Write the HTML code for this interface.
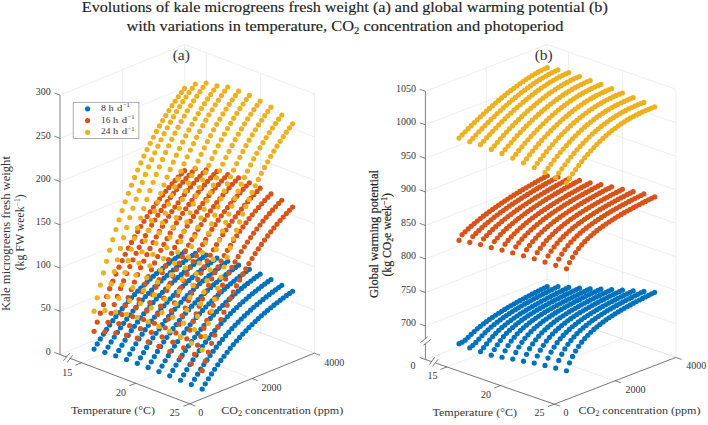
<!DOCTYPE html>
<html><head><meta charset="utf-8"><style>html,body{margin:0;padding:0;background:#fff;}svg{display:block;}</style></head>
<body><svg width="708" height="425" viewBox="0 0 708 425" font-family='"Liberation Serif", serif' fill="#363636">
<rect width="708" height="425" fill="#fff"/>
<text x="344.80" y="12.20" font-size="14.5" text-anchor="middle" fill="#1e1e1e" stroke="#1e1e1e" stroke-width="0.15" textLength="526" lengthAdjust="spacingAndGlyphs">Evolutions of kale microgreens fresh weight (a) and global warming potential (b)</text>
<text x="344.90" y="30.80" font-size="14.5" text-anchor="middle" fill="#1e1e1e" stroke="#1e1e1e" stroke-width="0.15" textLength="437" lengthAdjust="spacingAndGlyphs">with variations in temperature, CO<tspan font-size="9.5" dy="3">2</tspan><tspan dy="-3"> concentration and photoperiod</tspan></text>
<line x1="60.00" y1="354.50" x2="184.70" y2="303.90" stroke="#e2e2e2" stroke-width="0.6"/>
<line x1="60.00" y1="311.27" x2="184.70" y2="260.67" stroke="#e2e2e2" stroke-width="0.6"/>
<line x1="60.00" y1="268.03" x2="184.70" y2="217.43" stroke="#e2e2e2" stroke-width="0.6"/>
<line x1="60.00" y1="224.80" x2="184.70" y2="174.20" stroke="#e2e2e2" stroke-width="0.6"/>
<line x1="60.00" y1="181.57" x2="184.70" y2="130.97" stroke="#e2e2e2" stroke-width="0.6"/>
<line x1="60.00" y1="138.33" x2="184.70" y2="87.73" stroke="#e2e2e2" stroke-width="0.6"/>
<line x1="60.00" y1="95.10" x2="184.70" y2="44.50" stroke="#e2e2e2" stroke-width="0.6"/>
<line x1="122.35" y1="329.20" x2="122.35" y2="69.80" stroke="#e2e2e2" stroke-width="0.6"/>
<line x1="184.70" y1="303.90" x2="184.70" y2="44.50" stroke="#e2e2e2" stroke-width="0.6"/>
<line x1="184.70" y1="303.90" x2="314.40" y2="353.20" stroke="#e2e2e2" stroke-width="0.6"/>
<line x1="184.70" y1="260.67" x2="314.40" y2="309.97" stroke="#e2e2e2" stroke-width="0.6"/>
<line x1="184.70" y1="217.43" x2="314.40" y2="266.73" stroke="#e2e2e2" stroke-width="0.6"/>
<line x1="184.70" y1="174.20" x2="314.40" y2="223.50" stroke="#e2e2e2" stroke-width="0.6"/>
<line x1="184.70" y1="130.97" x2="314.40" y2="180.27" stroke="#e2e2e2" stroke-width="0.6"/>
<line x1="184.70" y1="87.73" x2="314.40" y2="137.03" stroke="#e2e2e2" stroke-width="0.6"/>
<line x1="184.70" y1="44.50" x2="314.40" y2="93.80" stroke="#e2e2e2" stroke-width="0.6"/>
<line x1="206.32" y1="312.12" x2="206.32" y2="52.72" stroke="#e2e2e2" stroke-width="0.6"/>
<line x1="260.36" y1="332.66" x2="260.36" y2="73.26" stroke="#e2e2e2" stroke-width="0.6"/>
<line x1="314.40" y1="353.20" x2="314.40" y2="93.80" stroke="#e2e2e2" stroke-width="0.6"/>
<line x1="81.62" y1="362.72" x2="206.32" y2="312.12" stroke="#e2e2e2" stroke-width="0.6"/>
<line x1="135.66" y1="383.26" x2="260.36" y2="332.66" stroke="#e2e2e2" stroke-width="0.6"/>
<line x1="189.70" y1="403.80" x2="314.40" y2="353.20" stroke="#e2e2e2" stroke-width="0.6"/>
<line x1="60.00" y1="354.50" x2="189.70" y2="403.80" stroke="#e2e2e2" stroke-width="0.6"/>
<line x1="122.35" y1="329.20" x2="252.05" y2="378.50" stroke="#e2e2e2" stroke-width="0.6"/>
<line x1="184.70" y1="303.90" x2="314.40" y2="353.20" stroke="#e2e2e2" stroke-width="0.6"/>
<circle cx="184.49" cy="251.80" r="2.6" fill="#0072BD"/>
<circle cx="181.38" cy="253.99" r="2.6" fill="#0072BD"/>
<circle cx="178.26" cy="256.23" r="2.6" fill="#0072BD"/>
<circle cx="175.14" cy="258.52" r="2.6" fill="#0072BD"/>
<circle cx="172.02" cy="260.86" r="2.6" fill="#0072BD"/>
<circle cx="195.30" cy="253.31" r="2.6" fill="#0072BD"/>
<circle cx="168.91" cy="263.26" r="2.6" fill="#0072BD"/>
<circle cx="192.19" cy="255.53" r="2.6" fill="#0072BD"/>
<circle cx="165.79" cy="265.72" r="2.6" fill="#0072BD"/>
<circle cx="189.07" cy="257.79" r="2.6" fill="#0072BD"/>
<circle cx="162.67" cy="268.25" r="2.6" fill="#0072BD"/>
<circle cx="185.95" cy="260.11" r="2.6" fill="#0072BD"/>
<circle cx="159.55" cy="270.84" r="2.6" fill="#0072BD"/>
<circle cx="182.83" cy="262.49" r="2.6" fill="#0072BD"/>
<circle cx="206.11" cy="255.09" r="2.6" fill="#0072BD"/>
<circle cx="156.44" cy="273.50" r="2.6" fill="#0072BD"/>
<circle cx="179.71" cy="264.92" r="2.6" fill="#0072BD"/>
<circle cx="202.99" cy="257.33" r="2.6" fill="#0072BD"/>
<circle cx="153.32" cy="276.24" r="2.6" fill="#0072BD"/>
<circle cx="176.60" cy="267.42" r="2.6" fill="#0072BD"/>
<circle cx="199.88" cy="259.62" r="2.6" fill="#0072BD"/>
<circle cx="150.20" cy="279.06" r="2.6" fill="#0072BD"/>
<circle cx="173.48" cy="269.98" r="2.6" fill="#0072BD"/>
<circle cx="196.76" cy="261.97" r="2.6" fill="#0072BD"/>
<circle cx="147.08" cy="281.95" r="2.6" fill="#0072BD"/>
<circle cx="170.36" cy="272.61" r="2.6" fill="#0072BD"/>
<circle cx="143.97" cy="284.94" r="2.6" fill="#0072BD"/>
<circle cx="193.64" cy="264.38" r="2.6" fill="#0072BD"/>
<circle cx="216.92" cy="258.07" r="2.6" fill="#0072BD"/>
<circle cx="167.25" cy="275.31" r="2.6" fill="#0072BD"/>
<circle cx="140.85" cy="288.01" r="2.6" fill="#0072BD"/>
<circle cx="190.52" cy="266.84" r="2.6" fill="#0072BD"/>
<circle cx="213.80" cy="260.32" r="2.6" fill="#0072BD"/>
<circle cx="184.49" cy="170.69" r="2.6" fill="#D95319"/>
<circle cx="164.13" cy="278.09" r="2.6" fill="#0072BD"/>
<circle cx="137.73" cy="291.18" r="2.6" fill="#0072BD"/>
<circle cx="187.41" cy="269.37" r="2.6" fill="#0072BD"/>
<circle cx="210.68" cy="262.63" r="2.6" fill="#0072BD"/>
<circle cx="181.38" cy="173.85" r="2.6" fill="#D95319"/>
<circle cx="161.01" cy="280.95" r="2.6" fill="#0072BD"/>
<circle cx="134.61" cy="294.46" r="2.6" fill="#0072BD"/>
<circle cx="184.29" cy="271.97" r="2.6" fill="#0072BD"/>
<circle cx="178.26" cy="177.10" r="2.6" fill="#D95319"/>
<circle cx="207.57" cy="264.99" r="2.6" fill="#0072BD"/>
<circle cx="157.89" cy="283.90" r="2.6" fill="#0072BD"/>
<circle cx="131.50" cy="297.84" r="2.6" fill="#0072BD"/>
<circle cx="175.14" cy="180.47" r="2.6" fill="#D95319"/>
<circle cx="181.17" cy="274.64" r="2.6" fill="#0072BD"/>
<circle cx="204.45" cy="267.41" r="2.6" fill="#0072BD"/>
<circle cx="227.73" cy="261.23" r="2.6" fill="#0072BD"/>
<circle cx="128.38" cy="301.33" r="2.6" fill="#0072BD"/>
<circle cx="154.78" cy="286.93" r="2.6" fill="#0072BD"/>
<circle cx="172.02" cy="183.94" r="2.6" fill="#D95319"/>
<circle cx="178.05" cy="277.38" r="2.6" fill="#0072BD"/>
<circle cx="125.26" cy="304.94" r="2.6" fill="#0072BD"/>
<circle cx="201.33" cy="269.89" r="2.6" fill="#0072BD"/>
<circle cx="224.61" cy="263.49" r="2.6" fill="#0072BD"/>
<circle cx="151.66" cy="290.06" r="2.6" fill="#0072BD"/>
<circle cx="168.91" cy="187.53" r="2.6" fill="#D95319"/>
<circle cx="174.94" cy="280.20" r="2.6" fill="#0072BD"/>
<circle cx="122.14" cy="308.67" r="2.6" fill="#0072BD"/>
<circle cx="148.54" cy="293.28" r="2.6" fill="#0072BD"/>
<circle cx="198.21" cy="272.43" r="2.6" fill="#0072BD"/>
<circle cx="221.49" cy="265.81" r="2.6" fill="#0072BD"/>
<circle cx="195.30" cy="168.75" r="2.6" fill="#D95319"/>
<circle cx="165.79" cy="191.24" r="2.6" fill="#D95319"/>
<circle cx="119.03" cy="312.54" r="2.6" fill="#0072BD"/>
<circle cx="171.82" cy="283.11" r="2.6" fill="#0072BD"/>
<circle cx="145.42" cy="296.61" r="2.6" fill="#0072BD"/>
<circle cx="162.67" cy="195.09" r="2.6" fill="#D95319"/>
<circle cx="195.10" cy="275.04" r="2.6" fill="#0072BD"/>
<circle cx="192.19" cy="171.94" r="2.6" fill="#D95319"/>
<circle cx="218.38" cy="268.18" r="2.6" fill="#0072BD"/>
<circle cx="115.91" cy="316.54" r="2.6" fill="#0072BD"/>
<circle cx="168.70" cy="286.10" r="2.6" fill="#0072BD"/>
<circle cx="142.31" cy="300.05" r="2.6" fill="#0072BD"/>
<circle cx="159.55" cy="199.07" r="2.6" fill="#D95319"/>
<circle cx="189.07" cy="175.23" r="2.6" fill="#D95319"/>
<circle cx="191.98" cy="277.72" r="2.6" fill="#0072BD"/>
<circle cx="112.79" cy="320.69" r="2.6" fill="#0072BD"/>
<circle cx="238.54" cy="265.16" r="2.6" fill="#0072BD"/>
<circle cx="215.26" cy="270.61" r="2.6" fill="#0072BD"/>
<circle cx="156.44" cy="203.19" r="2.6" fill="#D95319"/>
<circle cx="139.19" cy="303.61" r="2.6" fill="#0072BD"/>
<circle cx="165.58" cy="289.18" r="2.6" fill="#0072BD"/>
<circle cx="109.67" cy="324.99" r="2.6" fill="#0072BD"/>
<circle cx="185.95" cy="178.63" r="2.6" fill="#D95319"/>
<circle cx="188.86" cy="280.48" r="2.6" fill="#0072BD"/>
<circle cx="235.42" cy="267.43" r="2.6" fill="#0072BD"/>
<circle cx="212.14" cy="273.10" r="2.6" fill="#0072BD"/>
<circle cx="153.32" cy="207.47" r="2.6" fill="#D95319"/>
<circle cx="136.07" cy="307.28" r="2.6" fill="#0072BD"/>
<circle cx="106.56" cy="329.45" r="2.6" fill="#0072BD"/>
<circle cx="162.47" cy="292.36" r="2.6" fill="#0072BD"/>
<circle cx="182.83" cy="182.15" r="2.6" fill="#D95319"/>
<circle cx="150.20" cy="211.90" r="2.6" fill="#D95319"/>
<circle cx="185.74" cy="283.32" r="2.6" fill="#0072BD"/>
<circle cx="103.44" cy="334.09" r="2.6" fill="#0072BD"/>
<circle cx="132.95" cy="311.09" r="2.6" fill="#0072BD"/>
<circle cx="232.30" cy="269.74" r="2.6" fill="#0072BD"/>
<circle cx="209.02" cy="275.66" r="2.6" fill="#0072BD"/>
<circle cx="159.35" cy="295.64" r="2.6" fill="#0072BD"/>
<circle cx="179.71" cy="185.78" r="2.6" fill="#D95319"/>
<circle cx="147.08" cy="216.51" r="2.6" fill="#D95319"/>
<circle cx="100.32" cy="338.90" r="2.6" fill="#0072BD"/>
<circle cx="206.11" cy="169.83" r="2.6" fill="#D95319"/>
<circle cx="129.83" cy="315.03" r="2.6" fill="#0072BD"/>
<circle cx="182.63" cy="286.24" r="2.6" fill="#0072BD"/>
<circle cx="143.97" cy="221.29" r="2.6" fill="#D95319"/>
<circle cx="156.23" cy="299.02" r="2.6" fill="#0072BD"/>
<circle cx="205.91" cy="278.29" r="2.6" fill="#0072BD"/>
<circle cx="229.18" cy="272.12" r="2.6" fill="#0072BD"/>
<circle cx="97.20" cy="343.90" r="2.6" fill="#0072BD"/>
<circle cx="176.60" cy="189.54" r="2.6" fill="#D95319"/>
<circle cx="126.72" cy="319.11" r="2.6" fill="#0072BD"/>
<circle cx="202.99" cy="173.02" r="2.6" fill="#D95319"/>
<circle cx="140.85" cy="226.26" r="2.6" fill="#D95319"/>
<circle cx="94.09" cy="349.10" r="2.6" fill="#0072BD"/>
<circle cx="179.51" cy="289.25" r="2.6" fill="#0072BD"/>
<circle cx="153.11" cy="302.52" r="2.6" fill="#0072BD"/>
<circle cx="249.34" cy="269.36" r="2.6" fill="#0072BD"/>
<circle cx="173.48" cy="193.43" r="2.6" fill="#D95319"/>
<circle cx="202.79" cy="280.98" r="2.6" fill="#0072BD"/>
<circle cx="226.07" cy="274.55" r="2.6" fill="#0072BD"/>
<circle cx="137.73" cy="231.42" r="2.6" fill="#D95319"/>
<circle cx="123.60" cy="323.34" r="2.6" fill="#0072BD"/>
<circle cx="199.88" cy="176.32" r="2.6" fill="#D95319"/>
<circle cx="176.39" cy="292.35" r="2.6" fill="#0072BD"/>
<circle cx="134.61" cy="236.79" r="2.6" fill="#D95319"/>
<circle cx="170.36" cy="197.47" r="2.6" fill="#D95319"/>
<circle cx="150.00" cy="306.14" r="2.6" fill="#0072BD"/>
<circle cx="120.48" cy="327.73" r="2.6" fill="#0072BD"/>
<circle cx="246.23" cy="271.62" r="2.6" fill="#0072BD"/>
<circle cx="199.67" cy="283.76" r="2.6" fill="#0072BD"/>
<circle cx="131.50" cy="242.38" r="2.6" fill="#D95319"/>
<circle cx="222.95" cy="277.04" r="2.6" fill="#0072BD"/>
<circle cx="196.76" cy="179.72" r="2.6" fill="#D95319"/>
<circle cx="167.25" cy="201.64" r="2.6" fill="#D95319"/>
<circle cx="173.27" cy="295.55" r="2.6" fill="#0072BD"/>
<circle cx="146.88" cy="309.89" r="2.6" fill="#0072BD"/>
<circle cx="128.38" cy="248.20" r="2.6" fill="#D95319"/>
<circle cx="117.36" cy="332.28" r="2.6" fill="#0072BD"/>
<circle cx="125.26" cy="254.27" r="2.6" fill="#D95319"/>
<circle cx="196.55" cy="286.61" r="2.6" fill="#0072BD"/>
<circle cx="243.11" cy="273.94" r="2.6" fill="#0072BD"/>
<circle cx="164.13" cy="205.98" r="2.6" fill="#D95319"/>
<circle cx="193.64" cy="183.24" r="2.6" fill="#D95319"/>
<circle cx="219.83" cy="279.60" r="2.6" fill="#0072BD"/>
<circle cx="114.25" cy="337.01" r="2.6" fill="#0072BD"/>
<circle cx="122.14" cy="260.58" r="2.6" fill="#D95319"/>
<circle cx="143.76" cy="313.76" r="2.6" fill="#0072BD"/>
<circle cx="170.16" cy="298.85" r="2.6" fill="#0072BD"/>
<circle cx="119.03" cy="267.17" r="2.6" fill="#D95319"/>
<circle cx="111.13" cy="341.92" r="2.6" fill="#0072BD"/>
<circle cx="161.01" cy="210.47" r="2.6" fill="#D95319"/>
<circle cx="115.91" cy="274.03" r="2.6" fill="#D95319"/>
<circle cx="94.09" cy="331.37" r="2.6" fill="#D95319"/>
<circle cx="193.44" cy="289.55" r="2.6" fill="#0072BD"/>
<circle cx="190.52" cy="186.88" r="2.6" fill="#D95319"/>
<circle cx="112.79" cy="281.20" r="2.6" fill="#D95319"/>
<circle cx="97.20" cy="322.06" r="2.6" fill="#D95319"/>
<circle cx="140.64" cy="317.78" r="2.6" fill="#0072BD"/>
<circle cx="239.99" cy="276.31" r="2.6" fill="#0072BD"/>
<circle cx="109.67" cy="288.67" r="2.6" fill="#D95319"/>
<circle cx="100.32" cy="313.16" r="2.6" fill="#D95319"/>
<circle cx="216.71" cy="282.23" r="2.6" fill="#0072BD"/>
<circle cx="216.92" cy="171.43" r="2.6" fill="#D95319"/>
<circle cx="106.56" cy="296.48" r="2.6" fill="#D95319"/>
<circle cx="103.44" cy="304.64" r="2.6" fill="#D95319"/>
<circle cx="167.04" cy="302.27" r="2.6" fill="#0072BD"/>
<circle cx="108.01" cy="347.03" r="2.6" fill="#0072BD"/>
<circle cx="157.89" cy="215.14" r="2.6" fill="#D95319"/>
<circle cx="184.49" cy="88.38" r="2.6" fill="#EDB120"/>
<circle cx="187.41" cy="190.64" r="2.6" fill="#D95319"/>
<circle cx="137.53" cy="321.94" r="2.6" fill="#0072BD"/>
<circle cx="104.89" cy="352.34" r="2.6" fill="#0072BD"/>
<circle cx="190.32" cy="292.58" r="2.6" fill="#0072BD"/>
<circle cx="260.15" cy="274.07" r="2.6" fill="#0072BD"/>
<circle cx="154.78" cy="219.99" r="2.6" fill="#D95319"/>
<circle cx="213.80" cy="174.63" r="2.6" fill="#D95319"/>
<circle cx="163.92" cy="305.79" r="2.6" fill="#0072BD"/>
<circle cx="213.60" cy="284.93" r="2.6" fill="#0072BD"/>
<circle cx="236.87" cy="278.75" r="2.6" fill="#0072BD"/>
<circle cx="181.38" cy="92.48" r="2.6" fill="#EDB120"/>
<circle cx="134.41" cy="326.25" r="2.6" fill="#0072BD"/>
<circle cx="184.29" cy="194.54" r="2.6" fill="#D95319"/>
<circle cx="151.66" cy="225.03" r="2.6" fill="#D95319"/>
<circle cx="187.20" cy="295.70" r="2.6" fill="#0072BD"/>
<circle cx="160.80" cy="309.43" r="2.6" fill="#0072BD"/>
<circle cx="210.68" cy="177.94" r="2.6" fill="#D95319"/>
<circle cx="257.03" cy="276.33" r="2.6" fill="#0072BD"/>
<circle cx="210.48" cy="287.71" r="2.6" fill="#0072BD"/>
<circle cx="148.54" cy="230.26" r="2.6" fill="#D95319"/>
<circle cx="131.29" cy="330.72" r="2.6" fill="#0072BD"/>
<circle cx="178.26" cy="96.73" r="2.6" fill="#EDB120"/>
<circle cx="233.76" cy="281.24" r="2.6" fill="#0072BD"/>
<circle cx="181.17" cy="198.57" r="2.6" fill="#D95319"/>
<circle cx="145.42" cy="235.71" r="2.6" fill="#D95319"/>
<circle cx="184.08" cy="298.92" r="2.6" fill="#0072BD"/>
<circle cx="157.69" cy="313.20" r="2.6" fill="#0072BD"/>
<circle cx="128.17" cy="335.37" r="2.6" fill="#0072BD"/>
<circle cx="207.57" cy="181.35" r="2.6" fill="#D95319"/>
<circle cx="175.14" cy="101.14" r="2.6" fill="#EDB120"/>
<circle cx="253.92" cy="278.64" r="2.6" fill="#0072BD"/>
<circle cx="178.05" cy="202.75" r="2.6" fill="#D95319"/>
<circle cx="142.31" cy="241.39" r="2.6" fill="#D95319"/>
<circle cx="207.36" cy="290.57" r="2.6" fill="#0072BD"/>
<circle cx="230.64" cy="283.80" r="2.6" fill="#0072BD"/>
<circle cx="125.06" cy="340.19" r="2.6" fill="#0072BD"/>
<circle cx="94.09" cy="311.14" r="2.6" fill="#EDB120"/>
<circle cx="154.57" cy="317.11" r="2.6" fill="#0072BD"/>
<circle cx="139.19" cy="247.29" r="2.6" fill="#D95319"/>
<circle cx="172.02" cy="105.72" r="2.6" fill="#EDB120"/>
<circle cx="180.97" cy="302.25" r="2.6" fill="#0072BD"/>
<circle cx="204.45" cy="184.88" r="2.6" fill="#D95319"/>
<circle cx="174.94" cy="207.09" r="2.6" fill="#D95319"/>
<circle cx="136.07" cy="253.44" r="2.6" fill="#D95319"/>
<circle cx="121.94" cy="345.21" r="2.6" fill="#0072BD"/>
<circle cx="204.24" cy="293.51" r="2.6" fill="#0072BD"/>
<circle cx="250.80" cy="281.01" r="2.6" fill="#0072BD"/>
<circle cx="168.91" cy="110.48" r="2.6" fill="#EDB120"/>
<circle cx="132.95" cy="259.85" r="2.6" fill="#D95319"/>
<circle cx="227.52" cy="286.43" r="2.6" fill="#0072BD"/>
<circle cx="151.45" cy="321.15" r="2.6" fill="#0072BD"/>
<circle cx="97.20" cy="297.80" r="2.6" fill="#EDB120"/>
<circle cx="171.82" cy="211.59" r="2.6" fill="#D95319"/>
<circle cx="227.73" cy="174.59" r="2.6" fill="#D95319"/>
<circle cx="177.85" cy="305.68" r="2.6" fill="#0072BD"/>
<circle cx="129.83" cy="266.54" r="2.6" fill="#D95319"/>
<circle cx="201.33" cy="188.53" r="2.6" fill="#D95319"/>
<circle cx="118.82" cy="350.42" r="2.6" fill="#0072BD"/>
<circle cx="104.89" cy="331.76" r="2.6" fill="#D95319"/>
<circle cx="126.72" cy="273.51" r="2.6" fill="#D95319"/>
<circle cx="270.96" cy="279.48" r="2.6" fill="#0072BD"/>
<circle cx="165.79" cy="115.41" r="2.6" fill="#EDB120"/>
<circle cx="108.01" cy="322.30" r="2.6" fill="#D95319"/>
<circle cx="123.60" cy="280.79" r="2.6" fill="#D95319"/>
<circle cx="111.13" cy="313.25" r="2.6" fill="#D95319"/>
<circle cx="148.33" cy="325.34" r="2.6" fill="#0072BD"/>
<circle cx="120.48" cy="288.38" r="2.6" fill="#D95319"/>
<circle cx="201.13" cy="296.54" r="2.6" fill="#0072BD"/>
<circle cx="114.25" cy="304.59" r="2.6" fill="#D95319"/>
<circle cx="115.70" cy="355.84" r="2.6" fill="#0072BD"/>
<circle cx="117.36" cy="296.31" r="2.6" fill="#D95319"/>
<circle cx="168.70" cy="216.26" r="2.6" fill="#D95319"/>
<circle cx="247.68" cy="283.43" r="2.6" fill="#0072BD"/>
<circle cx="224.40" cy="289.13" r="2.6" fill="#0072BD"/>
<circle cx="100.32" cy="285.07" r="2.6" fill="#EDB120"/>
<circle cx="162.67" cy="120.55" r="2.6" fill="#EDB120"/>
<circle cx="198.21" cy="192.31" r="2.6" fill="#D95319"/>
<circle cx="174.73" cy="309.23" r="2.6" fill="#0072BD"/>
<circle cx="224.61" cy="177.79" r="2.6" fill="#D95319"/>
<circle cx="165.58" cy="221.12" r="2.6" fill="#D95319"/>
<circle cx="145.22" cy="329.69" r="2.6" fill="#0072BD"/>
<circle cx="159.55" cy="125.89" r="2.6" fill="#EDB120"/>
<circle cx="267.84" cy="281.72" r="2.6" fill="#0072BD"/>
<circle cx="198.01" cy="299.66" r="2.6" fill="#0072BD"/>
<circle cx="103.44" cy="272.92" r="2.6" fill="#EDB120"/>
<circle cx="195.10" cy="196.21" r="2.6" fill="#D95319"/>
<circle cx="171.61" cy="312.90" r="2.6" fill="#0072BD"/>
<circle cx="244.56" cy="285.92" r="2.6" fill="#0072BD"/>
<circle cx="221.29" cy="291.90" r="2.6" fill="#0072BD"/>
<circle cx="221.49" cy="181.09" r="2.6" fill="#D95319"/>
<circle cx="162.47" cy="226.16" r="2.6" fill="#D95319"/>
<circle cx="156.44" cy="131.45" r="2.6" fill="#EDB120"/>
<circle cx="195.30" cy="84.10" r="2.6" fill="#EDB120"/>
<circle cx="142.10" cy="334.20" r="2.6" fill="#0072BD"/>
<circle cx="106.56" cy="261.31" r="2.6" fill="#EDB120"/>
<circle cx="153.32" cy="137.23" r="2.6" fill="#EDB120"/>
<circle cx="159.35" cy="231.40" r="2.6" fill="#D95319"/>
<circle cx="194.89" cy="302.88" r="2.6" fill="#0072BD"/>
<circle cx="191.98" cy="200.26" r="2.6" fill="#D95319"/>
<circle cx="264.73" cy="284.01" r="2.6" fill="#0072BD"/>
<circle cx="168.50" cy="316.69" r="2.6" fill="#0072BD"/>
<circle cx="138.98" cy="338.88" r="2.6" fill="#0072BD"/>
<circle cx="192.19" cy="88.25" r="2.6" fill="#EDB120"/>
<circle cx="109.67" cy="250.23" r="2.6" fill="#EDB120"/>
<circle cx="218.38" cy="184.50" r="2.6" fill="#D95319"/>
<circle cx="150.20" cy="143.25" r="2.6" fill="#EDB120"/>
<circle cx="218.17" cy="294.76" r="2.6" fill="#0072BD"/>
<circle cx="241.45" cy="288.47" r="2.6" fill="#0072BD"/>
<circle cx="156.23" cy="236.86" r="2.6" fill="#D95319"/>
<circle cx="147.08" cy="149.53" r="2.6" fill="#EDB120"/>
<circle cx="112.79" cy="239.64" r="2.6" fill="#EDB120"/>
<circle cx="188.86" cy="204.46" r="2.6" fill="#D95319"/>
<circle cx="135.86" cy="343.74" r="2.6" fill="#0072BD"/>
<circle cx="165.38" cy="320.62" r="2.6" fill="#0072BD"/>
<circle cx="191.77" cy="306.21" r="2.6" fill="#0072BD"/>
<circle cx="153.11" cy="242.54" r="2.6" fill="#D95319"/>
<circle cx="189.07" cy="92.56" r="2.6" fill="#EDB120"/>
<circle cx="143.97" cy="156.07" r="2.6" fill="#EDB120"/>
<circle cx="115.91" cy="229.52" r="2.6" fill="#EDB120"/>
<circle cx="215.26" cy="188.03" r="2.6" fill="#D95319"/>
<circle cx="261.61" cy="286.36" r="2.6" fill="#0072BD"/>
<circle cx="140.85" cy="162.90" r="2.6" fill="#EDB120"/>
<circle cx="119.03" cy="219.85" r="2.6" fill="#EDB120"/>
<circle cx="215.05" cy="297.70" r="2.6" fill="#0072BD"/>
<circle cx="150.00" cy="248.45" r="2.6" fill="#D95319"/>
<circle cx="132.75" cy="348.80" r="2.6" fill="#0072BD"/>
<circle cx="238.33" cy="291.09" r="2.6" fill="#0072BD"/>
<circle cx="137.73" cy="170.01" r="2.6" fill="#EDB120"/>
<circle cx="185.74" cy="208.81" r="2.6" fill="#D95319"/>
<circle cx="122.14" cy="210.61" r="2.6" fill="#EDB120"/>
<circle cx="134.61" cy="177.44" r="2.6" fill="#EDB120"/>
<circle cx="125.26" cy="201.76" r="2.6" fill="#EDB120"/>
<circle cx="185.95" cy="97.03" r="2.6" fill="#EDB120"/>
<circle cx="104.89" cy="310.40" r="2.6" fill="#EDB120"/>
<circle cx="162.26" cy="324.70" r="2.6" fill="#0072BD"/>
<circle cx="131.50" cy="185.20" r="2.6" fill="#EDB120"/>
<circle cx="128.38" cy="193.30" r="2.6" fill="#EDB120"/>
<circle cx="281.77" cy="285.31" r="2.6" fill="#0072BD"/>
<circle cx="146.88" cy="254.61" r="2.6" fill="#D95319"/>
<circle cx="188.66" cy="309.65" r="2.6" fill="#0072BD"/>
<circle cx="238.54" cy="177.83" r="2.6" fill="#D95319"/>
<circle cx="129.63" cy="354.05" r="2.6" fill="#0072BD"/>
<circle cx="212.14" cy="191.67" r="2.6" fill="#D95319"/>
<circle cx="143.76" cy="261.03" r="2.6" fill="#D95319"/>
<circle cx="182.63" cy="213.33" r="2.6" fill="#D95319"/>
<circle cx="258.49" cy="288.77" r="2.6" fill="#0072BD"/>
<circle cx="211.93" cy="300.73" r="2.6" fill="#0072BD"/>
<circle cx="182.83" cy="101.68" r="2.6" fill="#EDB120"/>
<circle cx="140.64" cy="267.72" r="2.6" fill="#D95319"/>
<circle cx="159.14" cy="328.92" r="2.6" fill="#0072BD"/>
<circle cx="115.70" cy="333.02" r="2.6" fill="#D95319"/>
<circle cx="126.51" cy="359.52" r="2.6" fill="#0072BD"/>
<circle cx="235.21" cy="293.78" r="2.6" fill="#0072BD"/>
<circle cx="137.53" cy="274.70" r="2.6" fill="#D95319"/>
<circle cx="118.82" cy="323.54" r="2.6" fill="#D95319"/>
<circle cx="108.01" cy="296.83" r="2.6" fill="#EDB120"/>
<circle cx="185.54" cy="313.20" r="2.6" fill="#0072BD"/>
<circle cx="134.41" cy="281.98" r="2.6" fill="#D95319"/>
<circle cx="121.94" cy="314.48" r="2.6" fill="#D95319"/>
<circle cx="209.02" cy="195.44" r="2.6" fill="#D95319"/>
<circle cx="179.51" cy="218.01" r="2.6" fill="#D95319"/>
<circle cx="235.42" cy="181.04" r="2.6" fill="#D95319"/>
<circle cx="278.65" cy="287.53" r="2.6" fill="#0072BD"/>
<circle cx="131.29" cy="289.58" r="2.6" fill="#D95319"/>
<circle cx="125.06" cy="305.82" r="2.6" fill="#D95319"/>
<circle cx="128.17" cy="297.52" r="2.6" fill="#D95319"/>
<circle cx="179.71" cy="106.50" r="2.6" fill="#EDB120"/>
<circle cx="156.03" cy="333.30" r="2.6" fill="#0072BD"/>
<circle cx="208.82" cy="303.86" r="2.6" fill="#0072BD"/>
<circle cx="255.37" cy="291.23" r="2.6" fill="#0072BD"/>
<circle cx="176.39" cy="222.88" r="2.6" fill="#D95319"/>
<circle cx="232.09" cy="296.54" r="2.6" fill="#0072BD"/>
<circle cx="182.42" cy="316.87" r="2.6" fill="#0072BD"/>
<circle cx="111.13" cy="283.89" r="2.6" fill="#EDB120"/>
<circle cx="176.60" cy="111.51" r="2.6" fill="#EDB120"/>
<circle cx="205.91" cy="199.35" r="2.6" fill="#D95319"/>
<circle cx="232.30" cy="184.35" r="2.6" fill="#D95319"/>
<circle cx="152.91" cy="337.84" r="2.6" fill="#0072BD"/>
<circle cx="275.53" cy="289.80" r="2.6" fill="#0072BD"/>
<circle cx="173.27" cy="227.95" r="2.6" fill="#D95319"/>
<circle cx="173.48" cy="116.71" r="2.6" fill="#EDB120"/>
<circle cx="205.70" cy="307.08" r="2.6" fill="#0072BD"/>
<circle cx="114.25" cy="271.53" r="2.6" fill="#EDB120"/>
<circle cx="179.30" cy="320.67" r="2.6" fill="#0072BD"/>
<circle cx="252.26" cy="293.76" r="2.6" fill="#0072BD"/>
<circle cx="202.79" cy="203.39" r="2.6" fill="#D95319"/>
<circle cx="149.79" cy="342.56" r="2.6" fill="#0072BD"/>
<circle cx="228.98" cy="299.39" r="2.6" fill="#0072BD"/>
<circle cx="170.16" cy="233.21" r="2.6" fill="#D95319"/>
<circle cx="229.18" cy="187.77" r="2.6" fill="#D95319"/>
<circle cx="170.36" cy="122.13" r="2.6" fill="#EDB120"/>
<circle cx="206.11" cy="83.10" r="2.6" fill="#EDB120"/>
<circle cx="117.36" cy="259.73" r="2.6" fill="#EDB120"/>
<circle cx="272.42" cy="292.13" r="2.6" fill="#0072BD"/>
<circle cx="146.67" cy="347.46" r="2.6" fill="#0072BD"/>
<circle cx="167.04" cy="238.68" r="2.6" fill="#D95319"/>
<circle cx="202.58" cy="310.40" r="2.6" fill="#0072BD"/>
<circle cx="167.25" cy="127.77" r="2.6" fill="#EDB120"/>
<circle cx="176.19" cy="324.60" r="2.6" fill="#0072BD"/>
<circle cx="199.67" cy="207.59" r="2.6" fill="#D95319"/>
<circle cx="202.99" cy="87.30" r="2.6" fill="#EDB120"/>
<circle cx="249.14" cy="296.36" r="2.6" fill="#0072BD"/>
<circle cx="225.86" cy="302.32" r="2.6" fill="#0072BD"/>
<circle cx="226.07" cy="191.30" r="2.6" fill="#D95319"/>
<circle cx="164.13" cy="133.64" r="2.6" fill="#EDB120"/>
<circle cx="163.92" cy="244.38" r="2.6" fill="#D95319"/>
<circle cx="120.48" cy="248.46" r="2.6" fill="#EDB120"/>
<circle cx="292.58" cy="291.24" r="2.6" fill="#0072BD"/>
<circle cx="143.56" cy="352.56" r="2.6" fill="#0072BD"/>
<circle cx="196.55" cy="211.93" r="2.6" fill="#D95319"/>
<circle cx="173.07" cy="328.68" r="2.6" fill="#0072BD"/>
<circle cx="249.34" cy="182.80" r="2.6" fill="#D95319"/>
<circle cx="161.01" cy="139.75" r="2.6" fill="#EDB120"/>
<circle cx="160.80" cy="250.32" r="2.6" fill="#D95319"/>
<circle cx="199.46" cy="313.84" r="2.6" fill="#0072BD"/>
<circle cx="123.60" cy="237.69" r="2.6" fill="#EDB120"/>
<circle cx="199.88" cy="91.65" r="2.6" fill="#EDB120"/>
<circle cx="269.30" cy="294.51" r="2.6" fill="#0072BD"/>
<circle cx="140.44" cy="357.86" r="2.6" fill="#0072BD"/>
<circle cx="157.89" cy="146.13" r="2.6" fill="#EDB120"/>
<circle cx="222.95" cy="194.95" r="2.6" fill="#D95319"/>
<circle cx="115.70" cy="311.92" r="2.6" fill="#EDB120"/>
<circle cx="157.69" cy="256.50" r="2.6" fill="#D95319"/>
<circle cx="222.74" cy="305.34" r="2.6" fill="#0072BD"/>
<circle cx="126.72" cy="227.40" r="2.6" fill="#EDB120"/>
<circle cx="246.02" cy="299.03" r="2.6" fill="#0072BD"/>
<circle cx="193.44" cy="216.45" r="2.6" fill="#D95319"/>
<circle cx="154.78" cy="152.77" r="2.6" fill="#EDB120"/>
<circle cx="169.95" cy="332.91" r="2.6" fill="#0072BD"/>
<circle cx="154.57" cy="262.94" r="2.6" fill="#D95319"/>
<circle cx="137.32" cy="363.37" r="2.6" fill="#0072BD"/>
<circle cx="289.46" cy="293.44" r="2.6" fill="#0072BD"/>
<circle cx="129.83" cy="217.57" r="2.6" fill="#EDB120"/>
<circle cx="196.76" cy="96.16" r="2.6" fill="#EDB120"/>
<circle cx="151.66" cy="159.70" r="2.6" fill="#EDB120"/>
<circle cx="196.35" cy="317.39" r="2.6" fill="#0072BD"/>
<circle cx="246.23" cy="186.00" r="2.6" fill="#D95319"/>
<circle cx="132.95" cy="208.17" r="2.6" fill="#EDB120"/>
<circle cx="151.45" cy="269.66" r="2.6" fill="#D95319"/>
<circle cx="126.51" cy="335.22" r="2.6" fill="#D95319"/>
<circle cx="148.54" cy="166.93" r="2.6" fill="#EDB120"/>
<circle cx="136.07" cy="199.18" r="2.6" fill="#EDB120"/>
<circle cx="145.42" cy="174.47" r="2.6" fill="#EDB120"/>
<circle cx="139.19" cy="190.58" r="2.6" fill="#EDB120"/>
<circle cx="219.83" cy="198.73" r="2.6" fill="#D95319"/>
<circle cx="142.31" cy="182.35" r="2.6" fill="#EDB120"/>
<circle cx="148.33" cy="276.67" r="2.6" fill="#D95319"/>
<circle cx="190.32" cy="221.13" r="2.6" fill="#D95319"/>
<circle cx="266.18" cy="296.95" r="2.6" fill="#0072BD"/>
<circle cx="129.63" cy="325.71" r="2.6" fill="#D95319"/>
<circle cx="145.22" cy="283.98" r="2.6" fill="#D95319"/>
<circle cx="166.83" cy="337.29" r="2.6" fill="#0072BD"/>
<circle cx="219.62" cy="308.45" r="2.6" fill="#0072BD"/>
<circle cx="118.82" cy="298.19" r="2.6" fill="#EDB120"/>
<circle cx="132.75" cy="316.61" r="2.6" fill="#D95319"/>
<circle cx="193.64" cy="100.85" r="2.6" fill="#EDB120"/>
<circle cx="142.10" cy="291.61" r="2.6" fill="#D95319"/>
<circle cx="242.90" cy="301.77" r="2.6" fill="#0072BD"/>
<circle cx="135.86" cy="307.91" r="2.6" fill="#D95319"/>
<circle cx="138.98" cy="299.58" r="2.6" fill="#D95319"/>
<circle cx="193.23" cy="321.06" r="2.6" fill="#0072BD"/>
<circle cx="243.11" cy="189.31" r="2.6" fill="#D95319"/>
<circle cx="187.20" cy="225.99" r="2.6" fill="#D95319"/>
<circle cx="286.34" cy="295.68" r="2.6" fill="#0072BD"/>
<circle cx="216.71" cy="202.65" r="2.6" fill="#D95319"/>
<circle cx="163.72" cy="341.84" r="2.6" fill="#0072BD"/>
<circle cx="190.52" cy="105.72" r="2.6" fill="#EDB120"/>
<circle cx="263.06" cy="299.45" r="2.6" fill="#0072BD"/>
<circle cx="121.94" cy="285.08" r="2.6" fill="#EDB120"/>
<circle cx="216.51" cy="311.66" r="2.6" fill="#0072BD"/>
<circle cx="184.08" cy="231.05" r="2.6" fill="#D95319"/>
<circle cx="239.79" cy="304.59" r="2.6" fill="#0072BD"/>
<circle cx="190.11" cy="324.86" r="2.6" fill="#0072BD"/>
<circle cx="187.41" cy="110.77" r="2.6" fill="#EDB120"/>
<circle cx="239.99" cy="192.72" r="2.6" fill="#D95319"/>
<circle cx="160.60" cy="346.56" r="2.6" fill="#0072BD"/>
<circle cx="213.60" cy="206.70" r="2.6" fill="#D95319"/>
<circle cx="283.23" cy="297.98" r="2.6" fill="#0072BD"/>
<circle cx="180.97" cy="236.31" r="2.6" fill="#D95319"/>
<circle cx="216.92" cy="85.92" r="2.6" fill="#EDB120"/>
<circle cx="125.06" cy="272.58" r="2.6" fill="#EDB120"/>
<circle cx="184.29" cy="116.04" r="2.6" fill="#EDB120"/>
<circle cx="213.39" cy="314.97" r="2.6" fill="#0072BD"/>
<circle cx="157.48" cy="351.47" r="2.6" fill="#0072BD"/>
<circle cx="186.99" cy="328.80" r="2.6" fill="#0072BD"/>
<circle cx="259.95" cy="302.01" r="2.6" fill="#0072BD"/>
<circle cx="236.67" cy="307.50" r="2.6" fill="#0072BD"/>
<circle cx="177.85" cy="241.78" r="2.6" fill="#D95319"/>
<circle cx="210.48" cy="210.90" r="2.6" fill="#D95319"/>
<circle cx="236.87" cy="196.24" r="2.6" fill="#D95319"/>
<circle cx="181.17" cy="121.51" r="2.6" fill="#EDB120"/>
<circle cx="128.17" cy="260.64" r="2.6" fill="#EDB120"/>
<circle cx="213.80" cy="90.10" r="2.6" fill="#EDB120"/>
<circle cx="154.36" cy="356.57" r="2.6" fill="#0072BD"/>
<circle cx="260.15" cy="188.21" r="2.6" fill="#D95319"/>
<circle cx="174.73" cy="247.47" r="2.6" fill="#D95319"/>
<circle cx="280.11" cy="300.33" r="2.6" fill="#0072BD"/>
<circle cx="183.88" cy="332.88" r="2.6" fill="#0072BD"/>
<circle cx="210.27" cy="318.39" r="2.6" fill="#0072BD"/>
<circle cx="178.05" cy="127.20" r="2.6" fill="#EDB120"/>
<circle cx="207.36" cy="215.26" r="2.6" fill="#D95319"/>
<circle cx="256.83" cy="304.65" r="2.6" fill="#0072BD"/>
<circle cx="171.61" cy="253.40" r="2.6" fill="#D95319"/>
<circle cx="131.29" cy="249.23" r="2.6" fill="#EDB120"/>
<circle cx="233.76" cy="199.88" r="2.6" fill="#D95319"/>
<circle cx="151.25" cy="361.87" r="2.6" fill="#0072BD"/>
<circle cx="233.55" cy="310.49" r="2.6" fill="#0072BD"/>
<circle cx="210.68" cy="94.45" r="2.6" fill="#EDB120"/>
<circle cx="174.94" cy="133.13" r="2.6" fill="#EDB120"/>
<circle cx="168.50" cy="259.57" r="2.6" fill="#D95319"/>
<circle cx="180.76" cy="337.10" r="2.6" fill="#0072BD"/>
<circle cx="257.03" cy="191.41" r="2.6" fill="#D95319"/>
<circle cx="126.51" cy="314.30" r="2.6" fill="#EDB120"/>
<circle cx="134.41" cy="238.34" r="2.6" fill="#EDB120"/>
<circle cx="204.24" cy="219.78" r="2.6" fill="#D95319"/>
<circle cx="148.13" cy="367.39" r="2.6" fill="#0072BD"/>
<circle cx="207.15" cy="321.93" r="2.6" fill="#0072BD"/>
<circle cx="171.82" cy="139.31" r="2.6" fill="#EDB120"/>
<circle cx="165.38" cy="266.01" r="2.6" fill="#D95319"/>
<circle cx="276.99" cy="302.74" r="2.6" fill="#0072BD"/>
<circle cx="230.64" cy="203.65" r="2.6" fill="#D95319"/>
<circle cx="207.57" cy="98.95" r="2.6" fill="#EDB120"/>
<circle cx="137.53" cy="227.94" r="2.6" fill="#EDB120"/>
<circle cx="168.70" cy="145.75" r="2.6" fill="#EDB120"/>
<circle cx="162.26" cy="272.72" r="2.6" fill="#D95319"/>
<circle cx="230.43" cy="313.57" r="2.6" fill="#0072BD"/>
<circle cx="137.32" cy="338.21" r="2.6" fill="#D95319"/>
<circle cx="253.71" cy="307.36" r="2.6" fill="#0072BD"/>
<circle cx="177.64" cy="341.49" r="2.6" fill="#0072BD"/>
<circle cx="201.13" cy="224.48" r="2.6" fill="#D95319"/>
<circle cx="159.14" cy="279.72" r="2.6" fill="#D95319"/>
<circle cx="165.58" cy="152.47" r="2.6" fill="#EDB120"/>
<circle cx="140.64" cy="217.99" r="2.6" fill="#EDB120"/>
<circle cx="140.44" cy="328.70" r="2.6" fill="#D95319"/>
<circle cx="253.92" cy="194.70" r="2.6" fill="#D95319"/>
<circle cx="156.03" cy="287.02" r="2.6" fill="#D95319"/>
<circle cx="143.56" cy="319.62" r="2.6" fill="#D95319"/>
<circle cx="162.47" cy="159.47" r="2.6" fill="#EDB120"/>
<circle cx="204.04" cy="325.59" r="2.6" fill="#0072BD"/>
<circle cx="152.91" cy="294.65" r="2.6" fill="#D95319"/>
<circle cx="143.76" cy="208.49" r="2.6" fill="#EDB120"/>
<circle cx="146.67" cy="310.93" r="2.6" fill="#D95319"/>
<circle cx="204.45" cy="103.63" r="2.6" fill="#EDB120"/>
<circle cx="129.63" cy="300.59" r="2.6" fill="#EDB120"/>
<circle cx="149.79" cy="302.61" r="2.6" fill="#D95319"/>
<circle cx="159.35" cy="166.78" r="2.6" fill="#EDB120"/>
<circle cx="146.88" cy="199.39" r="2.6" fill="#EDB120"/>
<circle cx="227.52" cy="207.56" r="2.6" fill="#D95319"/>
<circle cx="156.23" cy="174.41" r="2.6" fill="#EDB120"/>
<circle cx="150.00" cy="190.70" r="2.6" fill="#EDB120"/>
<circle cx="153.11" cy="182.37" r="2.6" fill="#EDB120"/>
<circle cx="198.01" cy="229.36" r="2.6" fill="#D95319"/>
<circle cx="273.87" cy="305.21" r="2.6" fill="#0072BD"/>
<circle cx="174.52" cy="346.03" r="2.6" fill="#0072BD"/>
<circle cx="227.32" cy="316.75" r="2.6" fill="#0072BD"/>
<circle cx="250.59" cy="310.14" r="2.6" fill="#0072BD"/>
<circle cx="201.33" cy="108.49" r="2.6" fill="#EDB120"/>
<circle cx="250.80" cy="198.11" r="2.6" fill="#D95319"/>
<circle cx="200.92" cy="329.37" r="2.6" fill="#0072BD"/>
<circle cx="194.89" cy="234.43" r="2.6" fill="#D95319"/>
<circle cx="224.40" cy="211.60" r="2.6" fill="#D95319"/>
<circle cx="132.75" cy="287.52" r="2.6" fill="#EDB120"/>
<circle cx="171.41" cy="350.76" r="2.6" fill="#0072BD"/>
<circle cx="198.21" cy="113.54" r="2.6" fill="#EDB120"/>
<circle cx="270.75" cy="307.75" r="2.6" fill="#0072BD"/>
<circle cx="224.20" cy="320.03" r="2.6" fill="#0072BD"/>
<circle cx="191.77" cy="239.70" r="2.6" fill="#D95319"/>
<circle cx="247.48" cy="313.01" r="2.6" fill="#0072BD"/>
<circle cx="197.80" cy="333.29" r="2.6" fill="#0072BD"/>
<circle cx="168.29" cy="355.66" r="2.6" fill="#0072BD"/>
<circle cx="247.68" cy="201.63" r="2.6" fill="#D95319"/>
<circle cx="221.29" cy="215.79" r="2.6" fill="#D95319"/>
<circle cx="135.86" cy="275.04" r="2.6" fill="#EDB120"/>
<circle cx="195.10" cy="118.79" r="2.6" fill="#EDB120"/>
<circle cx="270.96" cy="193.96" r="2.6" fill="#D95319"/>
<circle cx="188.66" cy="245.18" r="2.6" fill="#D95319"/>
<circle cx="227.73" cy="87.00" r="2.6" fill="#EDB120"/>
<circle cx="165.17" cy="360.76" r="2.6" fill="#0072BD"/>
<circle cx="221.08" cy="323.42" r="2.6" fill="#0072BD"/>
<circle cx="191.98" cy="124.26" r="2.6" fill="#EDB120"/>
<circle cx="194.68" cy="337.35" r="2.6" fill="#0072BD"/>
<circle cx="218.17" cy="220.13" r="2.6" fill="#D95319"/>
<circle cx="267.64" cy="310.35" r="2.6" fill="#0072BD"/>
<circle cx="185.54" cy="250.89" r="2.6" fill="#D95319"/>
<circle cx="138.98" cy="263.12" r="2.6" fill="#EDB120"/>
<circle cx="244.56" cy="205.27" r="2.6" fill="#D95319"/>
<circle cx="244.36" cy="315.96" r="2.6" fill="#0072BD"/>
<circle cx="224.61" cy="91.22" r="2.6" fill="#EDB120"/>
<circle cx="162.05" cy="366.07" r="2.6" fill="#0072BD"/>
<circle cx="188.86" cy="129.94" r="2.6" fill="#EDB120"/>
<circle cx="182.42" cy="256.83" r="2.6" fill="#D95319"/>
<circle cx="267.84" cy="197.16" r="2.6" fill="#D95319"/>
<circle cx="142.10" cy="251.74" r="2.6" fill="#EDB120"/>
<circle cx="215.05" cy="224.64" r="2.6" fill="#D95319"/>
<circle cx="191.57" cy="341.55" r="2.6" fill="#0072BD"/>
<circle cx="217.96" cy="326.92" r="2.6" fill="#0072BD"/>
<circle cx="185.74" cy="135.86" r="2.6" fill="#EDB120"/>
<circle cx="179.30" cy="263.02" r="2.6" fill="#D95319"/>
<circle cx="158.94" cy="371.58" r="2.6" fill="#0072BD"/>
<circle cx="241.45" cy="209.03" r="2.6" fill="#D95319"/>
<circle cx="137.32" cy="317.45" r="2.6" fill="#EDB120"/>
<circle cx="264.52" cy="313.02" r="2.6" fill="#0072BD"/>
<circle cx="221.49" cy="95.59" r="2.6" fill="#EDB120"/>
<circle cx="241.24" cy="319.00" r="2.6" fill="#0072BD"/>
<circle cx="145.22" cy="240.87" r="2.6" fill="#EDB120"/>
<circle cx="176.19" cy="269.48" r="2.6" fill="#D95319"/>
<circle cx="182.63" cy="142.03" r="2.6" fill="#EDB120"/>
<circle cx="211.93" cy="229.32" r="2.6" fill="#D95319"/>
<circle cx="264.73" cy="200.46" r="2.6" fill="#D95319"/>
<circle cx="148.13" cy="341.88" r="2.6" fill="#D95319"/>
<circle cx="173.07" cy="276.21" r="2.6" fill="#D95319"/>
<circle cx="188.45" cy="345.92" r="2.6" fill="#0072BD"/>
<circle cx="179.51" cy="148.46" r="2.6" fill="#EDB120"/>
<circle cx="148.33" cy="230.49" r="2.6" fill="#EDB120"/>
<circle cx="214.85" cy="330.53" r="2.6" fill="#0072BD"/>
<circle cx="169.95" cy="283.23" r="2.6" fill="#D95319"/>
<circle cx="151.25" cy="332.35" r="2.6" fill="#D95319"/>
<circle cx="218.38" cy="100.13" r="2.6" fill="#EDB120"/>
<circle cx="238.33" cy="212.93" r="2.6" fill="#D95319"/>
<circle cx="176.39" cy="155.16" r="2.6" fill="#EDB120"/>
<circle cx="166.83" cy="290.55" r="2.6" fill="#D95319"/>
<circle cx="154.36" cy="323.24" r="2.6" fill="#D95319"/>
<circle cx="151.45" cy="220.56" r="2.6" fill="#EDB120"/>
<circle cx="163.72" cy="298.20" r="2.6" fill="#D95319"/>
<circle cx="157.48" cy="314.52" r="2.6" fill="#D95319"/>
<circle cx="160.60" cy="306.18" r="2.6" fill="#D95319"/>
<circle cx="208.82" cy="234.19" r="2.6" fill="#D95319"/>
<circle cx="238.12" cy="322.14" r="2.6" fill="#0072BD"/>
<circle cx="173.27" cy="162.15" r="2.6" fill="#EDB120"/>
<circle cx="140.44" cy="303.62" r="2.6" fill="#EDB120"/>
<circle cx="261.40" cy="315.77" r="2.6" fill="#0072BD"/>
<circle cx="154.57" cy="211.07" r="2.6" fill="#EDB120"/>
<circle cx="185.33" cy="350.44" r="2.6" fill="#0072BD"/>
<circle cx="170.16" cy="169.44" r="2.6" fill="#EDB120"/>
<circle cx="157.69" cy="202.00" r="2.6" fill="#EDB120"/>
<circle cx="261.61" cy="203.86" r="2.6" fill="#D95319"/>
<circle cx="167.04" cy="177.06" r="2.6" fill="#EDB120"/>
<circle cx="160.80" cy="193.32" r="2.6" fill="#EDB120"/>
<circle cx="163.92" cy="185.01" r="2.6" fill="#EDB120"/>
<circle cx="215.26" cy="104.85" r="2.6" fill="#EDB120"/>
<circle cx="211.73" cy="334.28" r="2.6" fill="#0072BD"/>
<circle cx="235.21" cy="216.97" r="2.6" fill="#D95319"/>
<circle cx="205.70" cy="239.24" r="2.6" fill="#D95319"/>
<circle cx="182.21" cy="355.14" r="2.6" fill="#0072BD"/>
<circle cx="235.01" cy="325.37" r="2.6" fill="#0072BD"/>
<circle cx="143.56" cy="290.41" r="2.6" fill="#EDB120"/>
<circle cx="212.14" cy="109.75" r="2.6" fill="#EDB120"/>
<circle cx="258.28" cy="318.60" r="2.6" fill="#0072BD"/>
<circle cx="202.58" cy="244.50" r="2.6" fill="#D95319"/>
<circle cx="258.49" cy="207.38" r="2.6" fill="#D95319"/>
<circle cx="208.61" cy="338.15" r="2.6" fill="#0072BD"/>
<circle cx="232.09" cy="221.15" r="2.6" fill="#D95319"/>
<circle cx="281.77" cy="200.23" r="2.6" fill="#D95319"/>
<circle cx="179.10" cy="360.02" r="2.6" fill="#0072BD"/>
<circle cx="209.02" cy="114.84" r="2.6" fill="#EDB120"/>
<circle cx="199.46" cy="249.96" r="2.6" fill="#D95319"/>
<circle cx="238.54" cy="91.19" r="2.6" fill="#EDB120"/>
<circle cx="146.67" cy="277.81" r="2.6" fill="#EDB120"/>
<circle cx="231.89" cy="328.71" r="2.6" fill="#0072BD"/>
<circle cx="175.98" cy="365.10" r="2.6" fill="#0072BD"/>
<circle cx="228.98" cy="225.49" r="2.6" fill="#D95319"/>
<circle cx="255.37" cy="211.02" r="2.6" fill="#D95319"/>
<circle cx="205.49" cy="342.17" r="2.6" fill="#0072BD"/>
<circle cx="255.17" cy="321.51" r="2.6" fill="#0072BD"/>
<circle cx="196.35" cy="255.65" r="2.6" fill="#D95319"/>
<circle cx="205.91" cy="120.13" r="2.6" fill="#EDB120"/>
<circle cx="278.65" cy="203.43" r="2.6" fill="#D95319"/>
<circle cx="149.79" cy="265.78" r="2.6" fill="#EDB120"/>
<circle cx="172.86" cy="370.38" r="2.6" fill="#0072BD"/>
<circle cx="235.42" cy="95.41" r="2.6" fill="#EDB120"/>
<circle cx="193.23" cy="261.58" r="2.6" fill="#D95319"/>
<circle cx="202.79" cy="125.64" r="2.6" fill="#EDB120"/>
<circle cx="225.86" cy="229.99" r="2.6" fill="#D95319"/>
<circle cx="228.77" cy="332.16" r="2.6" fill="#0072BD"/>
<circle cx="202.38" cy="346.33" r="2.6" fill="#0072BD"/>
<circle cx="252.26" cy="214.79" r="2.6" fill="#D95319"/>
<circle cx="190.11" cy="267.75" r="2.6" fill="#D95319"/>
<circle cx="169.74" cy="375.87" r="2.6" fill="#0072BD"/>
<circle cx="252.05" cy="324.51" r="2.6" fill="#0072BD"/>
<circle cx="199.67" cy="131.38" r="2.6" fill="#EDB120"/>
<circle cx="152.91" cy="254.29" r="2.6" fill="#EDB120"/>
<circle cx="148.13" cy="321.82" r="2.6" fill="#EDB120"/>
<circle cx="275.53" cy="206.73" r="2.6" fill="#D95319"/>
<circle cx="186.99" cy="274.18" r="2.6" fill="#D95319"/>
<circle cx="232.30" cy="99.79" r="2.6" fill="#EDB120"/>
<circle cx="222.74" cy="234.67" r="2.6" fill="#D95319"/>
<circle cx="196.55" cy="137.35" r="2.6" fill="#EDB120"/>
<circle cx="199.26" cy="350.64" r="2.6" fill="#0072BD"/>
<circle cx="183.88" cy="280.89" r="2.6" fill="#D95319"/>
<circle cx="158.94" cy="346.34" r="2.6" fill="#D95319"/>
<circle cx="225.65" cy="335.72" r="2.6" fill="#0072BD"/>
<circle cx="249.14" cy="218.69" r="2.6" fill="#D95319"/>
<circle cx="156.03" cy="243.32" r="2.6" fill="#EDB120"/>
<circle cx="180.76" cy="287.88" r="2.6" fill="#D95319"/>
<circle cx="162.05" cy="336.84" r="2.6" fill="#D95319"/>
<circle cx="193.44" cy="143.57" r="2.6" fill="#EDB120"/>
<circle cx="177.64" cy="295.18" r="2.6" fill="#D95319"/>
<circle cx="229.18" cy="104.34" r="2.6" fill="#EDB120"/>
<circle cx="165.17" cy="327.76" r="2.6" fill="#D95319"/>
<circle cx="219.62" cy="239.52" r="2.6" fill="#D95319"/>
<circle cx="248.93" cy="327.60" r="2.6" fill="#0072BD"/>
<circle cx="174.52" cy="302.80" r="2.6" fill="#D95319"/>
<circle cx="168.29" cy="319.07" r="2.6" fill="#D95319"/>
<circle cx="159.14" cy="232.83" r="2.6" fill="#EDB120"/>
<circle cx="171.41" cy="310.76" r="2.6" fill="#D95319"/>
<circle cx="272.42" cy="210.14" r="2.6" fill="#D95319"/>
<circle cx="190.32" cy="150.05" r="2.6" fill="#EDB120"/>
<circle cx="151.25" cy="307.97" r="2.6" fill="#EDB120"/>
<circle cx="196.14" cy="355.11" r="2.6" fill="#0072BD"/>
<circle cx="162.26" cy="222.81" r="2.6" fill="#EDB120"/>
<circle cx="246.02" cy="222.73" r="2.6" fill="#D95319"/>
<circle cx="222.54" cy="339.41" r="2.6" fill="#0072BD"/>
<circle cx="187.20" cy="156.81" r="2.6" fill="#EDB120"/>
<circle cx="216.51" cy="244.57" r="2.6" fill="#D95319"/>
<circle cx="226.07" cy="109.06" r="2.6" fill="#EDB120"/>
<circle cx="165.38" cy="213.24" r="2.6" fill="#EDB120"/>
<circle cx="184.08" cy="163.87" r="2.6" fill="#EDB120"/>
<circle cx="168.50" cy="204.08" r="2.6" fill="#EDB120"/>
<circle cx="180.97" cy="171.23" r="2.6" fill="#EDB120"/>
<circle cx="193.02" cy="359.76" r="2.6" fill="#0072BD"/>
<circle cx="245.81" cy="330.78" r="2.6" fill="#0072BD"/>
<circle cx="177.85" cy="178.91" r="2.6" fill="#EDB120"/>
<circle cx="171.61" cy="195.32" r="2.6" fill="#EDB120"/>
<circle cx="269.30" cy="213.67" r="2.6" fill="#D95319"/>
<circle cx="174.73" cy="186.93" r="2.6" fill="#EDB120"/>
<circle cx="292.58" cy="207.11" r="2.6" fill="#D95319"/>
<circle cx="213.39" cy="249.81" r="2.6" fill="#D95319"/>
<circle cx="154.36" cy="294.76" r="2.6" fill="#EDB120"/>
<circle cx="242.90" cy="226.92" r="2.6" fill="#D95319"/>
<circle cx="222.95" cy="113.96" r="2.6" fill="#EDB120"/>
<circle cx="219.42" cy="343.22" r="2.6" fill="#0072BD"/>
<circle cx="189.91" cy="364.58" r="2.6" fill="#0072BD"/>
<circle cx="210.27" cy="255.27" r="2.6" fill="#D95319"/>
<circle cx="219.83" cy="119.05" r="2.6" fill="#EDB120"/>
<circle cx="266.18" cy="217.31" r="2.6" fill="#D95319"/>
<circle cx="242.70" cy="334.07" r="2.6" fill="#0072BD"/>
<circle cx="239.79" cy="231.26" r="2.6" fill="#D95319"/>
<circle cx="289.46" cy="210.31" r="2.6" fill="#D95319"/>
<circle cx="157.48" cy="282.14" r="2.6" fill="#EDB120"/>
<circle cx="249.34" cy="95.39" r="2.6" fill="#EDB120"/>
<circle cx="216.30" cy="347.18" r="2.6" fill="#0072BD"/>
<circle cx="207.15" cy="260.95" r="2.6" fill="#D95319"/>
<circle cx="186.79" cy="369.60" r="2.6" fill="#0072BD"/>
<circle cx="216.71" cy="124.35" r="2.6" fill="#EDB120"/>
<circle cx="204.04" cy="266.87" r="2.6" fill="#D95319"/>
<circle cx="236.67" cy="235.76" r="2.6" fill="#D95319"/>
<circle cx="263.06" cy="221.08" r="2.6" fill="#D95319"/>
<circle cx="183.67" cy="374.81" r="2.6" fill="#0072BD"/>
<circle cx="160.60" cy="270.10" r="2.6" fill="#EDB120"/>
<circle cx="246.23" cy="99.62" r="2.6" fill="#EDB120"/>
<circle cx="239.58" cy="337.47" r="2.6" fill="#0072BD"/>
<circle cx="213.60" cy="129.86" r="2.6" fill="#EDB120"/>
<circle cx="213.18" cy="351.27" r="2.6" fill="#0072BD"/>
<circle cx="286.34" cy="213.61" r="2.6" fill="#D95319"/>
<circle cx="200.92" cy="273.03" r="2.6" fill="#D95319"/>
<circle cx="180.55" cy="380.23" r="2.6" fill="#0072BD"/>
<circle cx="197.80" cy="279.45" r="2.6" fill="#D95319"/>
<circle cx="233.55" cy="240.44" r="2.6" fill="#D95319"/>
<circle cx="158.94" cy="326.45" r="2.6" fill="#EDB120"/>
<circle cx="210.48" cy="135.60" r="2.6" fill="#EDB120"/>
<circle cx="163.72" cy="258.61" r="2.6" fill="#EDB120"/>
<circle cx="243.11" cy="104.00" r="2.6" fill="#EDB120"/>
<circle cx="259.95" cy="224.98" r="2.6" fill="#D95319"/>
<circle cx="194.68" cy="286.15" r="2.6" fill="#D95319"/>
<circle cx="169.74" cy="351.48" r="2.6" fill="#D95319"/>
<circle cx="210.07" cy="355.51" r="2.6" fill="#0072BD"/>
<circle cx="236.46" cy="340.98" r="2.6" fill="#0072BD"/>
<circle cx="207.36" cy="141.58" r="2.6" fill="#EDB120"/>
<circle cx="191.57" cy="293.13" r="2.6" fill="#D95319"/>
<circle cx="283.23" cy="217.02" r="2.6" fill="#D95319"/>
<circle cx="172.86" cy="342.00" r="2.6" fill="#D95319"/>
<circle cx="166.83" cy="247.62" r="2.6" fill="#EDB120"/>
<circle cx="230.43" cy="245.30" r="2.6" fill="#D95319"/>
<circle cx="188.45" cy="300.42" r="2.6" fill="#D95319"/>
<circle cx="175.98" cy="332.94" r="2.6" fill="#D95319"/>
<circle cx="185.33" cy="308.02" r="2.6" fill="#D95319"/>
<circle cx="179.10" cy="324.27" r="2.6" fill="#D95319"/>
<circle cx="204.24" cy="147.80" r="2.6" fill="#EDB120"/>
<circle cx="182.21" cy="315.97" r="2.6" fill="#D95319"/>
<circle cx="239.99" cy="108.55" r="2.6" fill="#EDB120"/>
<circle cx="256.83" cy="229.02" r="2.6" fill="#D95319"/>
<circle cx="169.95" cy="237.13" r="2.6" fill="#EDB120"/>
<circle cx="206.95" cy="359.91" r="2.6" fill="#0072BD"/>
<circle cx="162.05" cy="312.57" r="2.6" fill="#EDB120"/>
<circle cx="201.13" cy="154.29" r="2.6" fill="#EDB120"/>
<circle cx="227.32" cy="250.34" r="2.6" fill="#D95319"/>
<circle cx="233.34" cy="344.60" r="2.6" fill="#0072BD"/>
<circle cx="173.07" cy="227.11" r="2.6" fill="#EDB120"/>
<circle cx="280.11" cy="220.54" r="2.6" fill="#D95319"/>
<circle cx="198.01" cy="161.06" r="2.6" fill="#EDB120"/>
<circle cx="236.87" cy="113.28" r="2.6" fill="#EDB120"/>
<circle cx="176.19" cy="217.52" r="2.6" fill="#EDB120"/>
<circle cx="194.89" cy="168.11" r="2.6" fill="#EDB120"/>
<circle cx="253.71" cy="233.22" r="2.6" fill="#D95319"/>
<circle cx="203.83" cy="364.48" r="2.6" fill="#0072BD"/>
<circle cx="224.20" cy="255.59" r="2.6" fill="#D95319"/>
<circle cx="179.30" cy="208.35" r="2.6" fill="#EDB120"/>
<circle cx="191.77" cy="175.48" r="2.6" fill="#EDB120"/>
<circle cx="182.42" cy="199.59" r="2.6" fill="#EDB120"/>
<circle cx="188.66" cy="183.17" r="2.6" fill="#EDB120"/>
<circle cx="185.54" cy="191.20" r="2.6" fill="#EDB120"/>
<circle cx="165.17" cy="299.33" r="2.6" fill="#EDB120"/>
<circle cx="230.23" cy="348.36" r="2.6" fill="#0072BD"/>
<circle cx="233.76" cy="118.19" r="2.6" fill="#EDB120"/>
<circle cx="276.99" cy="224.18" r="2.6" fill="#D95319"/>
<circle cx="221.08" cy="261.05" r="2.6" fill="#D95319"/>
<circle cx="200.71" cy="369.22" r="2.6" fill="#0072BD"/>
<circle cx="250.59" cy="237.56" r="2.6" fill="#D95319"/>
<circle cx="260.15" cy="101.14" r="2.6" fill="#EDB120"/>
<circle cx="230.64" cy="123.29" r="2.6" fill="#EDB120"/>
<circle cx="217.96" cy="266.74" r="2.6" fill="#D95319"/>
<circle cx="168.29" cy="286.69" r="2.6" fill="#EDB120"/>
<circle cx="227.11" cy="352.24" r="2.6" fill="#0072BD"/>
<circle cx="197.60" cy="374.15" r="2.6" fill="#0072BD"/>
<circle cx="273.87" cy="227.95" r="2.6" fill="#D95319"/>
<circle cx="247.48" cy="242.07" r="2.6" fill="#D95319"/>
<circle cx="214.85" cy="272.66" r="2.6" fill="#D95319"/>
<circle cx="227.52" cy="128.60" r="2.6" fill="#EDB120"/>
<circle cx="257.03" cy="105.35" r="2.6" fill="#EDB120"/>
<circle cx="211.73" cy="278.82" r="2.6" fill="#D95319"/>
<circle cx="194.48" cy="379.27" r="2.6" fill="#0072BD"/>
<circle cx="171.41" cy="274.63" r="2.6" fill="#EDB120"/>
<circle cx="223.99" cy="356.27" r="2.6" fill="#0072BD"/>
<circle cx="224.40" cy="134.12" r="2.6" fill="#EDB120"/>
<circle cx="244.36" cy="246.75" r="2.6" fill="#D95319"/>
<circle cx="208.61" cy="285.25" r="2.6" fill="#D95319"/>
<circle cx="270.75" cy="231.86" r="2.6" fill="#D95319"/>
<circle cx="253.92" cy="109.72" r="2.6" fill="#EDB120"/>
<circle cx="191.36" cy="384.60" r="2.6" fill="#0072BD"/>
<circle cx="169.74" cy="330.99" r="2.6" fill="#EDB120"/>
<circle cx="205.49" cy="291.95" r="2.6" fill="#D95319"/>
<circle cx="174.52" cy="263.11" r="2.6" fill="#EDB120"/>
<circle cx="221.29" cy="139.87" r="2.6" fill="#EDB120"/>
<circle cx="180.55" cy="357.32" r="2.6" fill="#D95319"/>
<circle cx="202.38" cy="298.93" r="2.6" fill="#D95319"/>
<circle cx="220.88" cy="360.44" r="2.6" fill="#0072BD"/>
<circle cx="241.24" cy="251.61" r="2.6" fill="#D95319"/>
<circle cx="183.67" cy="347.84" r="2.6" fill="#D95319"/>
<circle cx="199.26" cy="306.23" r="2.6" fill="#D95319"/>
<circle cx="186.79" cy="338.77" r="2.6" fill="#D95319"/>
<circle cx="218.17" cy="145.85" r="2.6" fill="#EDB120"/>
<circle cx="267.64" cy="235.90" r="2.6" fill="#D95319"/>
<circle cx="196.14" cy="313.84" r="2.6" fill="#D95319"/>
<circle cx="189.91" cy="330.09" r="2.6" fill="#D95319"/>
<circle cx="177.64" cy="252.10" r="2.6" fill="#EDB120"/>
<circle cx="193.02" cy="321.79" r="2.6" fill="#D95319"/>
<circle cx="250.80" cy="114.25" r="2.6" fill="#EDB120"/>
<circle cx="215.05" cy="152.09" r="2.6" fill="#EDB120"/>
<circle cx="238.12" cy="256.67" r="2.6" fill="#D95319"/>
<circle cx="217.76" cy="364.76" r="2.6" fill="#0072BD"/>
<circle cx="180.76" cy="241.59" r="2.6" fill="#EDB120"/>
<circle cx="172.86" cy="317.19" r="2.6" fill="#EDB120"/>
<circle cx="211.93" cy="158.59" r="2.6" fill="#EDB120"/>
<circle cx="264.52" cy="240.09" r="2.6" fill="#D95319"/>
<circle cx="247.68" cy="118.95" r="2.6" fill="#EDB120"/>
<circle cx="183.88" cy="231.54" r="2.6" fill="#EDB120"/>
<circle cx="235.01" cy="261.92" r="2.6" fill="#D95319"/>
<circle cx="208.82" cy="165.37" r="2.6" fill="#EDB120"/>
<circle cx="186.99" cy="221.94" r="2.6" fill="#EDB120"/>
<circle cx="205.70" cy="172.44" r="2.6" fill="#EDB120"/>
<circle cx="214.64" cy="369.25" r="2.6" fill="#0072BD"/>
<circle cx="190.11" cy="212.76" r="2.6" fill="#EDB120"/>
<circle cx="202.58" cy="179.82" r="2.6" fill="#EDB120"/>
<circle cx="193.23" cy="203.97" r="2.6" fill="#EDB120"/>
<circle cx="199.46" cy="187.52" r="2.6" fill="#EDB120"/>
<circle cx="244.56" cy="123.84" r="2.6" fill="#EDB120"/>
<circle cx="231.89" cy="267.39" r="2.6" fill="#D95319"/>
<circle cx="196.35" cy="195.57" r="2.6" fill="#EDB120"/>
<circle cx="175.98" cy="304.02" r="2.6" fill="#EDB120"/>
<circle cx="261.40" cy="244.44" r="2.6" fill="#D95319"/>
<circle cx="211.52" cy="373.91" r="2.6" fill="#0072BD"/>
<circle cx="270.96" cy="107.15" r="2.6" fill="#EDB120"/>
<circle cx="228.77" cy="273.08" r="2.6" fill="#D95319"/>
<circle cx="241.45" cy="128.92" r="2.6" fill="#EDB120"/>
<circle cx="258.28" cy="248.95" r="2.6" fill="#D95319"/>
<circle cx="179.10" cy="291.46" r="2.6" fill="#EDB120"/>
<circle cx="225.65" cy="279.00" r="2.6" fill="#D95319"/>
<circle cx="208.40" cy="378.75" r="2.6" fill="#0072BD"/>
<circle cx="238.33" cy="134.20" r="2.6" fill="#EDB120"/>
<circle cx="267.84" cy="111.36" r="2.6" fill="#EDB120"/>
<circle cx="222.54" cy="285.17" r="2.6" fill="#D95319"/>
<circle cx="255.17" cy="253.63" r="2.6" fill="#D95319"/>
<circle cx="182.21" cy="279.46" r="2.6" fill="#EDB120"/>
<circle cx="219.42" cy="291.61" r="2.6" fill="#D95319"/>
<circle cx="235.21" cy="139.69" r="2.6" fill="#EDB120"/>
<circle cx="205.29" cy="383.78" r="2.6" fill="#0072BD"/>
<circle cx="264.73" cy="115.72" r="2.6" fill="#EDB120"/>
<circle cx="216.30" cy="298.31" r="2.6" fill="#D95319"/>
<circle cx="191.36" cy="363.76" r="2.6" fill="#D95319"/>
<circle cx="180.55" cy="336.91" r="2.6" fill="#EDB120"/>
<circle cx="252.05" cy="258.49" r="2.6" fill="#D95319"/>
<circle cx="232.09" cy="145.41" r="2.6" fill="#EDB120"/>
<circle cx="213.18" cy="305.31" r="2.6" fill="#D95319"/>
<circle cx="194.48" cy="354.27" r="2.6" fill="#D95319"/>
<circle cx="185.33" cy="268.00" r="2.6" fill="#EDB120"/>
<circle cx="202.17" cy="389.00" r="2.6" fill="#0072BD"/>
<circle cx="210.07" cy="312.61" r="2.6" fill="#D95319"/>
<circle cx="197.60" cy="345.19" r="2.6" fill="#D95319"/>
<circle cx="206.95" cy="320.23" r="2.6" fill="#D95319"/>
<circle cx="200.71" cy="336.50" r="2.6" fill="#D95319"/>
<circle cx="203.83" cy="328.19" r="2.6" fill="#D95319"/>
<circle cx="228.98" cy="151.37" r="2.6" fill="#EDB120"/>
<circle cx="261.61" cy="120.25" r="2.6" fill="#EDB120"/>
<circle cx="248.93" cy="263.54" r="2.6" fill="#D95319"/>
<circle cx="188.45" cy="257.06" r="2.6" fill="#EDB120"/>
<circle cx="225.86" cy="157.58" r="2.6" fill="#EDB120"/>
<circle cx="183.67" cy="323.12" r="2.6" fill="#EDB120"/>
<circle cx="191.57" cy="246.60" r="2.6" fill="#EDB120"/>
<circle cx="245.81" cy="268.80" r="2.6" fill="#D95319"/>
<circle cx="222.74" cy="164.04" r="2.6" fill="#EDB120"/>
<circle cx="258.49" cy="124.96" r="2.6" fill="#EDB120"/>
<circle cx="194.68" cy="236.61" r="2.6" fill="#EDB120"/>
<circle cx="219.62" cy="170.79" r="2.6" fill="#EDB120"/>
<circle cx="242.70" cy="274.26" r="2.6" fill="#D95319"/>
<circle cx="216.51" cy="177.82" r="2.6" fill="#EDB120"/>
<circle cx="197.80" cy="227.06" r="2.6" fill="#EDB120"/>
<circle cx="255.37" cy="129.84" r="2.6" fill="#EDB120"/>
<circle cx="213.39" cy="185.16" r="2.6" fill="#EDB120"/>
<circle cx="200.92" cy="217.93" r="2.6" fill="#EDB120"/>
<circle cx="186.79" cy="309.96" r="2.6" fill="#EDB120"/>
<circle cx="281.77" cy="114.98" r="2.6" fill="#EDB120"/>
<circle cx="210.27" cy="192.83" r="2.6" fill="#EDB120"/>
<circle cx="204.04" cy="209.19" r="2.6" fill="#EDB120"/>
<circle cx="207.15" cy="200.83" r="2.6" fill="#EDB120"/>
<circle cx="239.58" cy="279.95" r="2.6" fill="#D95319"/>
<circle cx="252.26" cy="134.92" r="2.6" fill="#EDB120"/>
<circle cx="236.46" cy="285.88" r="2.6" fill="#D95319"/>
<circle cx="278.65" cy="119.16" r="2.6" fill="#EDB120"/>
<circle cx="189.91" cy="297.40" r="2.6" fill="#EDB120"/>
<circle cx="233.34" cy="292.05" r="2.6" fill="#D95319"/>
<circle cx="249.14" cy="140.20" r="2.6" fill="#EDB120"/>
<circle cx="230.23" cy="298.48" r="2.6" fill="#D95319"/>
<circle cx="275.53" cy="123.50" r="2.6" fill="#EDB120"/>
<circle cx="193.02" cy="285.40" r="2.6" fill="#EDB120"/>
<circle cx="246.02" cy="145.69" r="2.6" fill="#EDB120"/>
<circle cx="227.11" cy="305.19" r="2.6" fill="#D95319"/>
<circle cx="202.17" cy="370.64" r="2.6" fill="#D95319"/>
<circle cx="191.36" cy="343.18" r="2.6" fill="#EDB120"/>
<circle cx="223.99" cy="312.18" r="2.6" fill="#D95319"/>
<circle cx="205.29" cy="361.14" r="2.6" fill="#D95319"/>
<circle cx="242.90" cy="151.41" r="2.6" fill="#EDB120"/>
<circle cx="220.88" cy="319.48" r="2.6" fill="#D95319"/>
<circle cx="208.40" cy="352.06" r="2.6" fill="#D95319"/>
<circle cx="196.14" cy="273.95" r="2.6" fill="#EDB120"/>
<circle cx="217.76" cy="327.10" r="2.6" fill="#D95319"/>
<circle cx="272.42" cy="128.00" r="2.6" fill="#EDB120"/>
<circle cx="211.52" cy="343.37" r="2.6" fill="#D95319"/>
<circle cx="214.64" cy="335.06" r="2.6" fill="#D95319"/>
<circle cx="239.79" cy="157.36" r="2.6" fill="#EDB120"/>
<circle cx="199.26" cy="263.01" r="2.6" fill="#EDB120"/>
<circle cx="236.67" cy="163.57" r="2.6" fill="#EDB120"/>
<circle cx="269.30" cy="132.68" r="2.6" fill="#EDB120"/>
<circle cx="194.48" cy="329.49" r="2.6" fill="#EDB120"/>
<circle cx="202.38" cy="252.56" r="2.6" fill="#EDB120"/>
<circle cx="233.55" cy="170.03" r="2.6" fill="#EDB120"/>
<circle cx="292.58" cy="123.75" r="2.6" fill="#EDB120"/>
<circle cx="205.49" cy="242.57" r="2.6" fill="#EDB120"/>
<circle cx="230.43" cy="176.77" r="2.6" fill="#EDB120"/>
<circle cx="266.18" cy="137.54" r="2.6" fill="#EDB120"/>
<circle cx="227.32" cy="183.81" r="2.6" fill="#EDB120"/>
<circle cx="208.61" cy="233.03" r="2.6" fill="#EDB120"/>
<circle cx="197.60" cy="316.43" r="2.6" fill="#EDB120"/>
<circle cx="224.20" cy="191.14" r="2.6" fill="#EDB120"/>
<circle cx="211.73" cy="223.90" r="2.6" fill="#EDB120"/>
<circle cx="221.08" cy="198.80" r="2.6" fill="#EDB120"/>
<circle cx="214.85" cy="215.16" r="2.6" fill="#EDB120"/>
<circle cx="217.96" cy="206.80" r="2.6" fill="#EDB120"/>
<circle cx="263.06" cy="142.58" r="2.6" fill="#EDB120"/>
<circle cx="289.46" cy="127.91" r="2.6" fill="#EDB120"/>
<circle cx="200.71" cy="303.95" r="2.6" fill="#EDB120"/>
<circle cx="259.95" cy="147.83" r="2.6" fill="#EDB120"/>
<circle cx="286.34" cy="132.22" r="2.6" fill="#EDB120"/>
<circle cx="256.83" cy="153.29" r="2.6" fill="#EDB120"/>
<circle cx="203.83" cy="292.05" r="2.6" fill="#EDB120"/>
<circle cx="283.23" cy="136.69" r="2.6" fill="#EDB120"/>
<circle cx="202.17" cy="349.97" r="2.6" fill="#EDB120"/>
<circle cx="253.71" cy="158.97" r="2.6" fill="#EDB120"/>
<circle cx="206.95" cy="280.68" r="2.6" fill="#EDB120"/>
<circle cx="250.59" cy="164.89" r="2.6" fill="#EDB120"/>
<circle cx="280.11" cy="141.33" r="2.6" fill="#EDB120"/>
<circle cx="210.07" cy="269.82" r="2.6" fill="#EDB120"/>
<circle cx="247.48" cy="171.05" r="2.6" fill="#EDB120"/>
<circle cx="205.29" cy="336.41" r="2.6" fill="#EDB120"/>
<circle cx="244.36" cy="177.47" r="2.6" fill="#EDB120"/>
<circle cx="213.18" cy="259.44" r="2.6" fill="#EDB120"/>
<circle cx="276.99" cy="146.14" r="2.6" fill="#EDB120"/>
<circle cx="241.24" cy="184.17" r="2.6" fill="#EDB120"/>
<circle cx="216.30" cy="249.52" r="2.6" fill="#EDB120"/>
<circle cx="238.12" cy="191.16" r="2.6" fill="#EDB120"/>
<circle cx="219.42" cy="240.04" r="2.6" fill="#EDB120"/>
<circle cx="235.01" cy="198.45" r="2.6" fill="#EDB120"/>
<circle cx="273.87" cy="151.15" r="2.6" fill="#EDB120"/>
<circle cx="208.40" cy="323.47" r="2.6" fill="#EDB120"/>
<circle cx="222.54" cy="230.98" r="2.6" fill="#EDB120"/>
<circle cx="231.89" cy="206.06" r="2.6" fill="#EDB120"/>
<circle cx="225.65" cy="222.30" r="2.6" fill="#EDB120"/>
<circle cx="228.77" cy="214.00" r="2.6" fill="#EDB120"/>
<circle cx="270.75" cy="156.36" r="2.6" fill="#EDB120"/>
<circle cx="211.52" cy="311.11" r="2.6" fill="#EDB120"/>
<circle cx="267.64" cy="161.77" r="2.6" fill="#EDB120"/>
<circle cx="214.64" cy="299.32" r="2.6" fill="#EDB120"/>
<circle cx="264.52" cy="167.41" r="2.6" fill="#EDB120"/>
<circle cx="261.40" cy="173.28" r="2.6" fill="#EDB120"/>
<circle cx="217.76" cy="288.05" r="2.6" fill="#EDB120"/>
<circle cx="258.28" cy="179.39" r="2.6" fill="#EDB120"/>
<circle cx="220.88" cy="277.29" r="2.6" fill="#EDB120"/>
<circle cx="255.17" cy="185.76" r="2.6" fill="#EDB120"/>
<circle cx="223.99" cy="267.01" r="2.6" fill="#EDB120"/>
<circle cx="252.05" cy="192.40" r="2.6" fill="#EDB120"/>
<circle cx="227.11" cy="257.18" r="2.6" fill="#EDB120"/>
<circle cx="248.93" cy="199.33" r="2.6" fill="#EDB120"/>
<circle cx="230.23" cy="247.78" r="2.6" fill="#EDB120"/>
<circle cx="245.81" cy="206.55" r="2.6" fill="#EDB120"/>
<circle cx="233.34" cy="238.80" r="2.6" fill="#EDB120"/>
<circle cx="242.70" cy="214.10" r="2.6" fill="#EDB120"/>
<circle cx="236.46" cy="230.20" r="2.6" fill="#EDB120"/>
<circle cx="239.58" cy="221.97" r="2.6" fill="#EDB120"/>
<line x1="60.00" y1="354.50" x2="60.00" y2="95.10" stroke="#474747" stroke-width="0.7"/>
<line x1="60.00" y1="354.50" x2="66.54" y2="356.99" stroke="#474747" stroke-width="0.7"/>
<line x1="69.91" y1="358.27" x2="189.70" y2="403.80" stroke="#474747" stroke-width="0.7"/>
<line x1="189.70" y1="403.80" x2="314.40" y2="353.20" stroke="#474747" stroke-width="0.7"/>
<line x1="60.00" y1="354.50" x2="54.39" y2="352.37" stroke="#474747" stroke-width="0.7"/>
<line x1="60.00" y1="311.27" x2="54.39" y2="309.13" stroke="#474747" stroke-width="0.7"/>
<line x1="60.00" y1="268.03" x2="54.39" y2="265.90" stroke="#474747" stroke-width="0.7"/>
<line x1="60.00" y1="224.80" x2="54.39" y2="222.67" stroke="#474747" stroke-width="0.7"/>
<line x1="60.00" y1="181.57" x2="54.39" y2="179.43" stroke="#474747" stroke-width="0.7"/>
<line x1="60.00" y1="138.33" x2="54.39" y2="136.20" stroke="#474747" stroke-width="0.7"/>
<line x1="60.00" y1="95.10" x2="54.39" y2="92.97" stroke="#474747" stroke-width="0.7"/>
<line x1="81.62" y1="362.72" x2="75.32" y2="365.27" stroke="#474747" stroke-width="0.7"/>
<line x1="135.66" y1="383.26" x2="129.36" y2="385.82" stroke="#474747" stroke-width="0.7"/>
<line x1="189.70" y1="403.80" x2="183.40" y2="406.36" stroke="#474747" stroke-width="0.7"/>
<line x1="189.70" y1="403.80" x2="195.31" y2="405.93" stroke="#474747" stroke-width="0.7"/>
<line x1="252.05" y1="378.50" x2="257.66" y2="380.63" stroke="#474747" stroke-width="0.7"/>
<line x1="314.40" y1="353.20" x2="320.01" y2="355.33" stroke="#474747" stroke-width="0.7"/>
<text x="50.80" y="354.70" font-size="10" text-anchor="end" >0</text>
<text x="50.80" y="311.47" font-size="10" text-anchor="end" >50</text>
<text x="50.80" y="268.23" font-size="10" text-anchor="end" >100</text>
<text x="50.80" y="225.00" font-size="10" text-anchor="end" >150</text>
<text x="50.80" y="181.77" font-size="10" text-anchor="end" >200</text>
<text x="50.80" y="138.53" font-size="10" text-anchor="end" >250</text>
<text x="50.80" y="95.30" font-size="10" text-anchor="end" >300</text>
<text x="67.30" y="375.90" font-size="10" text-anchor="middle" >15</text>
<text x="121.00" y="395.80" font-size="10" text-anchor="middle" >20</text>
<text x="174.80" y="416.20" font-size="10" text-anchor="middle" >25</text>
<text x="200.80" y="416.20" font-size="10" text-anchor="middle" >0</text>
<text x="271.40" y="391.20" font-size="10" text-anchor="middle" >2000</text>
<text x="334.20" y="365.90" font-size="10" text-anchor="middle" >4000</text>
<text x="70.90" y="414.20" font-size="11" text-anchor="start" textLength="84" lengthAdjust="spacingAndGlyphs">Temperature (°C)</text>
<text x="221.20" y="413.90" font-size="11" text-anchor="start" textLength="122" lengthAdjust="spacingAndGlyphs">CO<tspan font-size="7.5" dy="2">2</tspan><tspan dy="-2"> concentration (ppm)</tspan></text>
<text transform="translate(10.0,233.6) rotate(-90)" font-size="11.5" text-anchor="middle" textLength="155" lengthAdjust="spacingAndGlyphs">Kale microgreens fresh weight</text>
<text transform="translate(23.6,232.3) rotate(-90)" font-size="11.5" text-anchor="middle" textLength="76" lengthAdjust="spacingAndGlyphs">(kg FW week<tspan font-size="7.5" dy="-4">−1</tspan><tspan dy="4">)</tspan></text>
<text x="181.30" y="60.40" font-size="15.5" text-anchor="middle" >(a)</text>
<line x1="63.50" y1="360.60" x2="69.70" y2="353.20" stroke="#474747" stroke-width="0.7"/>
<line x1="67.10" y1="362.60" x2="72.60" y2="355.30" stroke="#474747" stroke-width="0.7"/>
<rect x="73.2" y="102.3" width="65.7" height="36.2" fill="#fff" stroke="#8c8c8c" stroke-width="0.7"/>
<circle cx="87.6" cy="108.8" r="2.65" fill="#0072BD"/>
<text x="100.9" y="110.9" font-size="8.6" textLength="4.9" lengthAdjust="spacingAndGlyphs">8</text>
<text x="108.4" y="110.9" font-size="8.6" textLength="5.2" lengthAdjust="spacingAndGlyphs">h</text>
<text x="117.0" y="110.9" font-size="8.6" textLength="5.4" lengthAdjust="spacingAndGlyphs">d</text>
<text x="122.9" y="107.0" font-size="6.2" textLength="6.9" lengthAdjust="spacingAndGlyphs">−1</text>
<circle cx="87.6" cy="120.6" r="2.65" fill="#D95319"/>
<text x="101.1" y="122.7" font-size="8.6" textLength="9.3" lengthAdjust="spacingAndGlyphs">16</text>
<text x="113.0" y="122.7" font-size="8.6" textLength="5.2" lengthAdjust="spacingAndGlyphs">h</text>
<text x="121.8" y="122.7" font-size="8.6" textLength="5.4" lengthAdjust="spacingAndGlyphs">d</text>
<text x="127.5" y="118.8" font-size="6.2" textLength="6.9" lengthAdjust="spacingAndGlyphs">−1</text>
<circle cx="87.6" cy="132.3" r="2.65" fill="#EDB120"/>
<text x="101.1" y="134.4" font-size="8.6" textLength="9.3" lengthAdjust="spacingAndGlyphs">24</text>
<text x="113.0" y="134.4" font-size="8.6" textLength="5.2" lengthAdjust="spacingAndGlyphs">h</text>
<text x="121.8" y="134.4" font-size="8.6" textLength="5.4" lengthAdjust="spacingAndGlyphs">d</text>
<text x="127.5" y="130.5" font-size="6.2" textLength="6.9" lengthAdjust="spacingAndGlyphs">−1</text>
<line x1="425.40" y1="359.50" x2="547.00" y2="312.70" stroke="#e2e2e2" stroke-width="0.6"/>
<line x1="425.40" y1="325.98" x2="547.00" y2="279.18" stroke="#e2e2e2" stroke-width="0.6"/>
<line x1="425.40" y1="292.45" x2="547.00" y2="245.65" stroke="#e2e2e2" stroke-width="0.6"/>
<line x1="425.40" y1="258.93" x2="547.00" y2="212.12" stroke="#e2e2e2" stroke-width="0.6"/>
<line x1="425.40" y1="225.40" x2="547.00" y2="178.60" stroke="#e2e2e2" stroke-width="0.6"/>
<line x1="425.40" y1="191.88" x2="547.00" y2="145.07" stroke="#e2e2e2" stroke-width="0.6"/>
<line x1="425.40" y1="158.35" x2="547.00" y2="111.55" stroke="#e2e2e2" stroke-width="0.6"/>
<line x1="425.40" y1="124.83" x2="547.00" y2="78.03" stroke="#e2e2e2" stroke-width="0.6"/>
<line x1="425.40" y1="91.30" x2="547.00" y2="44.50" stroke="#e2e2e2" stroke-width="0.6"/>
<line x1="486.20" y1="336.10" x2="486.20" y2="67.90" stroke="#e2e2e2" stroke-width="0.6"/>
<line x1="547.00" y1="312.70" x2="547.00" y2="44.50" stroke="#e2e2e2" stroke-width="0.6"/>
<line x1="547.00" y1="312.70" x2="675.90" y2="357.40" stroke="#e2e2e2" stroke-width="0.6"/>
<line x1="547.00" y1="279.18" x2="675.90" y2="323.88" stroke="#e2e2e2" stroke-width="0.6"/>
<line x1="547.00" y1="245.65" x2="675.90" y2="290.35" stroke="#e2e2e2" stroke-width="0.6"/>
<line x1="547.00" y1="212.12" x2="675.90" y2="256.82" stroke="#e2e2e2" stroke-width="0.6"/>
<line x1="547.00" y1="178.60" x2="675.90" y2="223.30" stroke="#e2e2e2" stroke-width="0.6"/>
<line x1="547.00" y1="145.07" x2="675.90" y2="189.77" stroke="#e2e2e2" stroke-width="0.6"/>
<line x1="547.00" y1="111.55" x2="675.90" y2="156.25" stroke="#e2e2e2" stroke-width="0.6"/>
<line x1="547.00" y1="78.03" x2="675.90" y2="122.72" stroke="#e2e2e2" stroke-width="0.6"/>
<line x1="547.00" y1="44.50" x2="675.90" y2="89.20" stroke="#e2e2e2" stroke-width="0.6"/>
<line x1="568.48" y1="320.15" x2="568.48" y2="51.95" stroke="#e2e2e2" stroke-width="0.6"/>
<line x1="622.19" y1="338.77" x2="622.19" y2="70.57" stroke="#e2e2e2" stroke-width="0.6"/>
<line x1="675.90" y1="357.40" x2="675.90" y2="89.20" stroke="#e2e2e2" stroke-width="0.6"/>
<line x1="446.88" y1="366.95" x2="568.48" y2="320.15" stroke="#e2e2e2" stroke-width="0.6"/>
<line x1="500.59" y1="385.57" x2="622.19" y2="338.77" stroke="#e2e2e2" stroke-width="0.6"/>
<line x1="554.30" y1="404.20" x2="675.90" y2="357.40" stroke="#e2e2e2" stroke-width="0.6"/>
<line x1="425.40" y1="359.50" x2="554.30" y2="404.20" stroke="#e2e2e2" stroke-width="0.6"/>
<line x1="486.20" y1="336.10" x2="615.10" y2="380.80" stroke="#e2e2e2" stroke-width="0.6"/>
<line x1="547.00" y1="312.70" x2="675.90" y2="357.40" stroke="#e2e2e2" stroke-width="0.6"/>
<circle cx="547.20" cy="286.57" r="2.6" fill="#0072BD"/>
<circle cx="544.16" cy="288.06" r="2.6" fill="#0072BD"/>
<circle cx="541.12" cy="289.57" r="2.6" fill="#0072BD"/>
<circle cx="538.08" cy="291.10" r="2.6" fill="#0072BD"/>
<circle cx="557.94" cy="286.61" r="2.6" fill="#0072BD"/>
<circle cx="535.04" cy="292.64" r="2.6" fill="#0072BD"/>
<circle cx="554.90" cy="288.10" r="2.6" fill="#0072BD"/>
<circle cx="532.00" cy="294.20" r="2.6" fill="#0072BD"/>
<circle cx="551.87" cy="289.61" r="2.6" fill="#0072BD"/>
<circle cx="528.96" cy="295.78" r="2.6" fill="#0072BD"/>
<circle cx="548.83" cy="291.14" r="2.6" fill="#0072BD"/>
<circle cx="525.92" cy="297.39" r="2.6" fill="#0072BD"/>
<circle cx="568.69" cy="287.45" r="2.6" fill="#0072BD"/>
<circle cx="545.78" cy="292.69" r="2.6" fill="#0072BD"/>
<circle cx="522.88" cy="299.02" r="2.6" fill="#0072BD"/>
<circle cx="565.65" cy="288.92" r="2.6" fill="#0072BD"/>
<circle cx="542.75" cy="294.26" r="2.6" fill="#0072BD"/>
<circle cx="519.84" cy="300.67" r="2.6" fill="#0072BD"/>
<circle cx="562.61" cy="290.40" r="2.6" fill="#0072BD"/>
<circle cx="539.71" cy="295.85" r="2.6" fill="#0072BD"/>
<circle cx="516.80" cy="302.36" r="2.6" fill="#0072BD"/>
<circle cx="559.57" cy="291.91" r="2.6" fill="#0072BD"/>
<circle cx="536.66" cy="297.46" r="2.6" fill="#0072BD"/>
<circle cx="513.76" cy="304.08" r="2.6" fill="#0072BD"/>
<circle cx="579.43" cy="288.15" r="2.6" fill="#0072BD"/>
<circle cx="556.53" cy="293.43" r="2.6" fill="#0072BD"/>
<circle cx="533.62" cy="299.11" r="2.6" fill="#0072BD"/>
<circle cx="510.72" cy="305.83" r="2.6" fill="#0072BD"/>
<circle cx="576.39" cy="289.59" r="2.6" fill="#0072BD"/>
<circle cx="553.49" cy="294.97" r="2.6" fill="#0072BD"/>
<circle cx="530.59" cy="300.78" r="2.6" fill="#0072BD"/>
<circle cx="507.68" cy="307.62" r="2.6" fill="#0072BD"/>
<circle cx="573.35" cy="291.03" r="2.6" fill="#0072BD"/>
<circle cx="550.45" cy="296.53" r="2.6" fill="#0072BD"/>
<circle cx="527.54" cy="302.48" r="2.6" fill="#0072BD"/>
<circle cx="504.64" cy="309.45" r="2.6" fill="#0072BD"/>
<circle cx="570.31" cy="292.49" r="2.6" fill="#0072BD"/>
<circle cx="547.41" cy="298.12" r="2.6" fill="#0072BD"/>
<circle cx="524.50" cy="304.21" r="2.6" fill="#0072BD"/>
<circle cx="501.60" cy="311.33" r="2.6" fill="#0072BD"/>
<circle cx="590.17" cy="288.80" r="2.6" fill="#0072BD"/>
<circle cx="547.20" cy="175.73" r="2.6" fill="#D95319"/>
<circle cx="567.27" cy="293.97" r="2.6" fill="#0072BD"/>
<circle cx="544.37" cy="299.73" r="2.6" fill="#0072BD"/>
<circle cx="498.56" cy="313.26" r="2.6" fill="#0072BD"/>
<circle cx="521.47" cy="305.99" r="2.6" fill="#0072BD"/>
<circle cx="587.13" cy="290.21" r="2.6" fill="#0072BD"/>
<circle cx="544.16" cy="177.40" r="2.6" fill="#D95319"/>
<circle cx="564.23" cy="295.47" r="2.6" fill="#0072BD"/>
<circle cx="541.33" cy="301.37" r="2.6" fill="#0072BD"/>
<circle cx="495.52" cy="315.25" r="2.6" fill="#0072BD"/>
<circle cx="518.42" cy="307.80" r="2.6" fill="#0072BD"/>
<circle cx="584.09" cy="291.64" r="2.6" fill="#0072BD"/>
<circle cx="541.12" cy="179.08" r="2.6" fill="#D95319"/>
<circle cx="561.19" cy="296.99" r="2.6" fill="#0072BD"/>
<circle cx="538.29" cy="303.04" r="2.6" fill="#0072BD"/>
<circle cx="492.48" cy="317.30" r="2.6" fill="#0072BD"/>
<circle cx="515.38" cy="309.66" r="2.6" fill="#0072BD"/>
<circle cx="581.05" cy="293.08" r="2.6" fill="#0072BD"/>
<circle cx="538.08" cy="180.77" r="2.6" fill="#D95319"/>
<circle cx="558.15" cy="298.53" r="2.6" fill="#0072BD"/>
<circle cx="489.44" cy="319.43" r="2.6" fill="#0072BD"/>
<circle cx="535.25" cy="304.75" r="2.6" fill="#0072BD"/>
<circle cx="512.35" cy="311.58" r="2.6" fill="#0072BD"/>
<circle cx="600.91" cy="289.03" r="2.6" fill="#0072BD"/>
<circle cx="557.94" cy="176.98" r="2.6" fill="#D95319"/>
<circle cx="578.01" cy="294.55" r="2.6" fill="#0072BD"/>
<circle cx="535.04" cy="182.49" r="2.6" fill="#D95319"/>
<circle cx="486.40" cy="321.63" r="2.6" fill="#0072BD"/>
<circle cx="555.11" cy="300.10" r="2.6" fill="#0072BD"/>
<circle cx="532.21" cy="306.50" r="2.6" fill="#0072BD"/>
<circle cx="509.31" cy="313.55" r="2.6" fill="#0072BD"/>
<circle cx="597.87" cy="290.46" r="2.6" fill="#0072BD"/>
<circle cx="554.90" cy="178.63" r="2.6" fill="#D95319"/>
<circle cx="574.97" cy="296.03" r="2.6" fill="#0072BD"/>
<circle cx="532.00" cy="184.23" r="2.6" fill="#D95319"/>
<circle cx="483.36" cy="323.93" r="2.6" fill="#0072BD"/>
<circle cx="552.07" cy="301.69" r="2.6" fill="#0072BD"/>
<circle cx="506.26" cy="315.59" r="2.6" fill="#0072BD"/>
<circle cx="529.17" cy="308.29" r="2.6" fill="#0072BD"/>
<circle cx="594.83" cy="291.90" r="2.6" fill="#0072BD"/>
<circle cx="551.87" cy="180.29" r="2.6" fill="#D95319"/>
<circle cx="480.32" cy="326.33" r="2.6" fill="#0072BD"/>
<circle cx="528.96" cy="185.99" r="2.6" fill="#D95319"/>
<circle cx="571.93" cy="297.53" r="2.6" fill="#0072BD"/>
<circle cx="503.23" cy="317.70" r="2.6" fill="#0072BD"/>
<circle cx="549.03" cy="303.32" r="2.6" fill="#0072BD"/>
<circle cx="526.13" cy="310.13" r="2.6" fill="#0072BD"/>
<circle cx="548.83" cy="181.98" r="2.6" fill="#D95319"/>
<circle cx="591.79" cy="293.36" r="2.6" fill="#0072BD"/>
<circle cx="477.28" cy="328.86" r="2.6" fill="#0072BD"/>
<circle cx="525.92" cy="187.77" r="2.6" fill="#D95319"/>
<circle cx="568.89" cy="299.05" r="2.6" fill="#0072BD"/>
<circle cx="500.19" cy="319.90" r="2.6" fill="#0072BD"/>
<circle cx="545.99" cy="304.98" r="2.6" fill="#0072BD"/>
<circle cx="523.09" cy="312.02" r="2.6" fill="#0072BD"/>
<circle cx="568.69" cy="178.83" r="2.6" fill="#D95319"/>
<circle cx="611.65" cy="289.61" r="2.6" fill="#0072BD"/>
<circle cx="474.24" cy="331.52" r="2.6" fill="#0072BD"/>
<circle cx="545.78" cy="183.68" r="2.6" fill="#D95319"/>
<circle cx="588.75" cy="294.83" r="2.6" fill="#0072BD"/>
<circle cx="522.88" cy="189.58" r="2.6" fill="#D95319"/>
<circle cx="497.14" cy="322.19" r="2.6" fill="#0072BD"/>
<circle cx="565.85" cy="300.60" r="2.6" fill="#0072BD"/>
<circle cx="520.05" cy="313.97" r="2.6" fill="#0072BD"/>
<circle cx="542.95" cy="306.68" r="2.6" fill="#0072BD"/>
<circle cx="565.65" cy="180.46" r="2.6" fill="#D95319"/>
<circle cx="471.20" cy="334.35" r="2.6" fill="#0072BD"/>
<circle cx="608.61" cy="291.04" r="2.6" fill="#0072BD"/>
<circle cx="542.75" cy="185.40" r="2.6" fill="#D95319"/>
<circle cx="585.71" cy="296.33" r="2.6" fill="#0072BD"/>
<circle cx="494.11" cy="324.59" r="2.6" fill="#0072BD"/>
<circle cx="519.84" cy="191.41" r="2.6" fill="#D95319"/>
<circle cx="562.81" cy="302.18" r="2.6" fill="#0072BD"/>
<circle cx="517.01" cy="316.00" r="2.6" fill="#0072BD"/>
<circle cx="539.91" cy="308.42" r="2.6" fill="#0072BD"/>
<circle cx="468.16" cy="337.37" r="2.6" fill="#0072BD"/>
<circle cx="562.61" cy="182.10" r="2.6" fill="#D95319"/>
<circle cx="605.57" cy="292.50" r="2.6" fill="#0072BD"/>
<circle cx="539.71" cy="187.15" r="2.6" fill="#D95319"/>
<circle cx="491.06" cy="327.12" r="2.6" fill="#0072BD"/>
<circle cx="582.67" cy="297.85" r="2.6" fill="#0072BD"/>
<circle cx="516.80" cy="193.27" r="2.6" fill="#D95319"/>
<circle cx="559.77" cy="303.78" r="2.6" fill="#0072BD"/>
<circle cx="513.97" cy="318.10" r="2.6" fill="#0072BD"/>
<circle cx="536.87" cy="310.22" r="2.6" fill="#0072BD"/>
<circle cx="465.12" cy="340.21" r="2.6" fill="#0072BD"/>
<circle cx="559.57" cy="183.77" r="2.6" fill="#D95319"/>
<circle cx="488.02" cy="329.81" r="2.6" fill="#0072BD"/>
<circle cx="602.53" cy="293.97" r="2.6" fill="#0072BD"/>
<circle cx="536.66" cy="188.92" r="2.6" fill="#D95319"/>
<circle cx="513.76" cy="195.16" r="2.6" fill="#D95319"/>
<circle cx="579.63" cy="299.39" r="2.6" fill="#0072BD"/>
<circle cx="510.93" cy="320.30" r="2.6" fill="#0072BD"/>
<circle cx="556.73" cy="305.43" r="2.6" fill="#0072BD"/>
<circle cx="533.83" cy="312.06" r="2.6" fill="#0072BD"/>
<circle cx="462.08" cy="342.27" r="2.6" fill="#0072BD"/>
<circle cx="579.43" cy="180.41" r="2.6" fill="#D95319"/>
<circle cx="622.39" cy="290.18" r="2.6" fill="#0072BD"/>
<circle cx="556.53" cy="185.46" r="2.6" fill="#D95319"/>
<circle cx="484.99" cy="332.67" r="2.6" fill="#0072BD"/>
<circle cx="599.49" cy="295.46" r="2.6" fill="#0072BD"/>
<circle cx="533.62" cy="190.72" r="2.6" fill="#D95319"/>
<circle cx="510.72" cy="197.09" r="2.6" fill="#D95319"/>
<circle cx="507.89" cy="322.60" r="2.6" fill="#0072BD"/>
<circle cx="576.59" cy="300.95" r="2.6" fill="#0072BD"/>
<circle cx="553.69" cy="307.11" r="2.6" fill="#0072BD"/>
<circle cx="530.79" cy="313.98" r="2.6" fill="#0072BD"/>
<circle cx="576.39" cy="182.03" r="2.6" fill="#D95319"/>
<circle cx="459.04" cy="343.63" r="2.6" fill="#0072BD"/>
<circle cx="481.94" cy="335.75" r="2.6" fill="#0072BD"/>
<circle cx="619.36" cy="291.63" r="2.6" fill="#0072BD"/>
<circle cx="553.49" cy="187.16" r="2.6" fill="#D95319"/>
<circle cx="530.59" cy="192.54" r="2.6" fill="#D95319"/>
<circle cx="596.45" cy="296.96" r="2.6" fill="#0072BD"/>
<circle cx="504.85" cy="325.03" r="2.6" fill="#0072BD"/>
<circle cx="507.68" cy="199.04" r="2.6" fill="#D95319"/>
<circle cx="573.55" cy="302.55" r="2.6" fill="#0072BD"/>
<circle cx="550.65" cy="308.83" r="2.6" fill="#0072BD"/>
<circle cx="478.90" cy="339.08" r="2.6" fill="#0072BD"/>
<circle cx="527.75" cy="315.96" r="2.6" fill="#0072BD"/>
<circle cx="573.35" cy="183.67" r="2.6" fill="#D95319"/>
<circle cx="550.45" cy="188.89" r="2.6" fill="#D95319"/>
<circle cx="616.32" cy="293.09" r="2.6" fill="#0072BD"/>
<circle cx="501.81" cy="327.60" r="2.6" fill="#0072BD"/>
<circle cx="527.54" cy="194.39" r="2.6" fill="#D95319"/>
<circle cx="593.41" cy="298.50" r="2.6" fill="#0072BD"/>
<circle cx="504.64" cy="201.03" r="2.6" fill="#D95319"/>
<circle cx="475.87" cy="342.42" r="2.6" fill="#0072BD"/>
<circle cx="570.51" cy="304.18" r="2.6" fill="#0072BD"/>
<circle cx="524.71" cy="318.03" r="2.6" fill="#0072BD"/>
<circle cx="547.61" cy="310.61" r="2.6" fill="#0072BD"/>
<circle cx="570.31" cy="185.33" r="2.6" fill="#D95319"/>
<circle cx="547.41" cy="190.64" r="2.6" fill="#D95319"/>
<circle cx="613.28" cy="294.57" r="2.6" fill="#0072BD"/>
<circle cx="498.77" cy="330.36" r="2.6" fill="#0072BD"/>
<circle cx="524.50" cy="196.27" r="2.6" fill="#D95319"/>
<circle cx="472.82" cy="345.28" r="2.6" fill="#0072BD"/>
<circle cx="501.60" cy="203.06" r="2.6" fill="#D95319"/>
<circle cx="590.37" cy="300.05" r="2.6" fill="#0072BD"/>
<circle cx="590.17" cy="182.86" r="2.6" fill="#D95319"/>
<circle cx="521.67" cy="320.20" r="2.6" fill="#0072BD"/>
<circle cx="567.47" cy="305.84" r="2.6" fill="#0072BD"/>
<circle cx="544.57" cy="312.44" r="2.6" fill="#0072BD"/>
<circle cx="567.27" cy="187.01" r="2.6" fill="#D95319"/>
<circle cx="633.14" cy="290.89" r="2.6" fill="#0072BD"/>
<circle cx="547.20" cy="67.65" r="2.6" fill="#EDB120"/>
<circle cx="495.73" cy="333.32" r="2.6" fill="#0072BD"/>
<circle cx="544.37" cy="192.42" r="2.6" fill="#D95319"/>
<circle cx="610.24" cy="296.07" r="2.6" fill="#0072BD"/>
<circle cx="469.79" cy="347.82" r="2.6" fill="#0072BD"/>
<circle cx="521.47" cy="198.18" r="2.6" fill="#D95319"/>
<circle cx="498.56" cy="205.13" r="2.6" fill="#D95319"/>
<circle cx="587.33" cy="301.64" r="2.6" fill="#0072BD"/>
<circle cx="587.13" cy="184.45" r="2.6" fill="#D95319"/>
<circle cx="518.63" cy="322.49" r="2.6" fill="#0072BD"/>
<circle cx="564.43" cy="307.54" r="2.6" fill="#0072BD"/>
<circle cx="541.53" cy="314.34" r="2.6" fill="#0072BD"/>
<circle cx="492.69" cy="336.55" r="2.6" fill="#0072BD"/>
<circle cx="564.23" cy="188.71" r="2.6" fill="#D95319"/>
<circle cx="630.10" cy="292.35" r="2.6" fill="#0072BD"/>
<circle cx="544.16" cy="68.99" r="2.6" fill="#EDB120"/>
<circle cx="541.33" cy="194.23" r="2.6" fill="#D95319"/>
<circle cx="607.20" cy="297.59" r="2.6" fill="#0072BD"/>
<circle cx="518.42" cy="200.13" r="2.6" fill="#D95319"/>
<circle cx="495.52" cy="207.25" r="2.6" fill="#D95319"/>
<circle cx="515.59" cy="324.92" r="2.6" fill="#0072BD"/>
<circle cx="584.29" cy="303.25" r="2.6" fill="#0072BD"/>
<circle cx="584.09" cy="186.07" r="2.6" fill="#D95319"/>
<circle cx="489.65" cy="340.12" r="2.6" fill="#0072BD"/>
<circle cx="561.39" cy="309.30" r="2.6" fill="#0072BD"/>
<circle cx="538.49" cy="316.31" r="2.6" fill="#0072BD"/>
<circle cx="561.19" cy="190.44" r="2.6" fill="#D95319"/>
<circle cx="627.06" cy="293.82" r="2.6" fill="#0072BD"/>
<circle cx="541.12" cy="70.50" r="2.6" fill="#EDB120"/>
<circle cx="538.29" cy="196.06" r="2.6" fill="#D95319"/>
<circle cx="492.48" cy="209.41" r="2.6" fill="#D95319"/>
<circle cx="515.38" cy="202.12" r="2.6" fill="#D95319"/>
<circle cx="486.61" cy="343.89" r="2.6" fill="#0072BD"/>
<circle cx="604.16" cy="299.13" r="2.6" fill="#0072BD"/>
<circle cx="512.55" cy="327.51" r="2.6" fill="#0072BD"/>
<circle cx="581.25" cy="304.90" r="2.6" fill="#0072BD"/>
<circle cx="581.05" cy="187.70" r="2.6" fill="#D95319"/>
<circle cx="535.45" cy="318.37" r="2.6" fill="#0072BD"/>
<circle cx="558.35" cy="311.10" r="2.6" fill="#0072BD"/>
<circle cx="558.15" cy="192.19" r="2.6" fill="#D95319"/>
<circle cx="483.57" cy="347.65" r="2.6" fill="#0072BD"/>
<circle cx="538.08" cy="72.13" r="2.6" fill="#EDB120"/>
<circle cx="624.02" cy="295.31" r="2.6" fill="#0072BD"/>
<circle cx="535.25" cy="197.93" r="2.6" fill="#D95319"/>
<circle cx="600.91" cy="184.57" r="2.6" fill="#D95319"/>
<circle cx="489.44" cy="211.62" r="2.6" fill="#D95319"/>
<circle cx="509.51" cy="330.31" r="2.6" fill="#0072BD"/>
<circle cx="512.35" cy="204.14" r="2.6" fill="#D95319"/>
<circle cx="601.12" cy="300.70" r="2.6" fill="#0072BD"/>
<circle cx="578.21" cy="306.58" r="2.6" fill="#0072BD"/>
<circle cx="578.01" cy="189.36" r="2.6" fill="#D95319"/>
<circle cx="532.41" cy="320.53" r="2.6" fill="#0072BD"/>
<circle cx="557.94" cy="69.97" r="2.6" fill="#EDB120"/>
<circle cx="555.31" cy="312.96" r="2.6" fill="#0072BD"/>
<circle cx="480.53" cy="351.62" r="2.6" fill="#0072BD"/>
<circle cx="643.88" cy="291.40" r="2.6" fill="#0072BD"/>
<circle cx="555.11" cy="193.96" r="2.6" fill="#D95319"/>
<circle cx="506.47" cy="333.36" r="2.6" fill="#0072BD"/>
<circle cx="532.21" cy="199.82" r="2.6" fill="#D95319"/>
<circle cx="535.04" cy="73.86" r="2.6" fill="#EDB120"/>
<circle cx="620.98" cy="296.83" r="2.6" fill="#0072BD"/>
<circle cx="486.40" cy="213.89" r="2.6" fill="#D95319"/>
<circle cx="509.31" cy="206.21" r="2.6" fill="#D95319"/>
<circle cx="597.87" cy="186.16" r="2.6" fill="#D95319"/>
<circle cx="598.08" cy="302.30" r="2.6" fill="#0072BD"/>
<circle cx="529.37" cy="322.82" r="2.6" fill="#0072BD"/>
<circle cx="575.17" cy="308.31" r="2.6" fill="#0072BD"/>
<circle cx="574.97" cy="191.03" r="2.6" fill="#D95319"/>
<circle cx="552.27" cy="314.89" r="2.6" fill="#0072BD"/>
<circle cx="554.90" cy="71.27" r="2.6" fill="#EDB120"/>
<circle cx="503.43" cy="336.72" r="2.6" fill="#0072BD"/>
<circle cx="552.07" cy="195.77" r="2.6" fill="#D95319"/>
<circle cx="640.84" cy="292.87" r="2.6" fill="#0072BD"/>
<circle cx="483.36" cy="216.21" r="2.6" fill="#D95319"/>
<circle cx="529.17" cy="201.76" r="2.6" fill="#D95319"/>
<circle cx="532.00" cy="75.69" r="2.6" fill="#EDB120"/>
<circle cx="506.26" cy="208.33" r="2.6" fill="#D95319"/>
<circle cx="617.94" cy="298.36" r="2.6" fill="#0072BD"/>
<circle cx="594.83" cy="187.76" r="2.6" fill="#D95319"/>
<circle cx="595.04" cy="303.93" r="2.6" fill="#0072BD"/>
<circle cx="526.33" cy="325.25" r="2.6" fill="#0072BD"/>
<circle cx="500.39" cy="340.50" r="2.6" fill="#0072BD"/>
<circle cx="572.13" cy="310.08" r="2.6" fill="#0072BD"/>
<circle cx="571.93" cy="192.73" r="2.6" fill="#D95319"/>
<circle cx="549.23" cy="316.90" r="2.6" fill="#0072BD"/>
<circle cx="551.87" cy="72.73" r="2.6" fill="#EDB120"/>
<circle cx="549.03" cy="197.60" r="2.6" fill="#D95319"/>
<circle cx="480.32" cy="218.60" r="2.6" fill="#D95319"/>
<circle cx="637.80" cy="294.36" r="2.6" fill="#0072BD"/>
<circle cx="526.13" cy="203.73" r="2.6" fill="#D95319"/>
<circle cx="528.96" cy="77.60" r="2.6" fill="#EDB120"/>
<circle cx="503.23" cy="210.50" r="2.6" fill="#D95319"/>
<circle cx="497.35" cy="344.74" r="2.6" fill="#0072BD"/>
<circle cx="614.90" cy="299.92" r="2.6" fill="#0072BD"/>
<circle cx="591.79" cy="189.38" r="2.6" fill="#D95319"/>
<circle cx="523.29" cy="327.86" r="2.6" fill="#0072BD"/>
<circle cx="592.00" cy="305.59" r="2.6" fill="#0072BD"/>
<circle cx="569.09" cy="311.91" r="2.6" fill="#0072BD"/>
<circle cx="546.19" cy="319.01" r="2.6" fill="#0072BD"/>
<circle cx="568.89" cy="194.46" r="2.6" fill="#D95319"/>
<circle cx="494.31" cy="349.52" r="2.6" fill="#0072BD"/>
<circle cx="548.83" cy="74.31" r="2.6" fill="#EDB120"/>
<circle cx="477.28" cy="221.06" r="2.6" fill="#D95319"/>
<circle cx="611.65" cy="186.82" r="2.6" fill="#D95319"/>
<circle cx="545.99" cy="199.47" r="2.6" fill="#D95319"/>
<circle cx="634.76" cy="295.87" r="2.6" fill="#0072BD"/>
<circle cx="523.09" cy="205.75" r="2.6" fill="#D95319"/>
<circle cx="500.19" cy="212.72" r="2.6" fill="#D95319"/>
<circle cx="525.92" cy="79.59" r="2.6" fill="#EDB120"/>
<circle cx="520.25" cy="330.69" r="2.6" fill="#0072BD"/>
<circle cx="491.27" cy="355.14" r="2.6" fill="#0072BD"/>
<circle cx="611.86" cy="301.51" r="2.6" fill="#0072BD"/>
<circle cx="568.69" cy="72.69" r="2.6" fill="#EDB120"/>
<circle cx="588.75" cy="191.02" r="2.6" fill="#D95319"/>
<circle cx="588.96" cy="307.29" r="2.6" fill="#0072BD"/>
<circle cx="543.15" cy="321.22" r="2.6" fill="#0072BD"/>
<circle cx="566.05" cy="313.81" r="2.6" fill="#0072BD"/>
<circle cx="565.85" cy="196.21" r="2.6" fill="#D95319"/>
<circle cx="654.62" cy="292.37" r="2.6" fill="#0072BD"/>
<circle cx="474.24" cy="223.60" r="2.6" fill="#D95319"/>
<circle cx="545.78" cy="76.00" r="2.6" fill="#EDB120"/>
<circle cx="542.95" cy="201.37" r="2.6" fill="#D95319"/>
<circle cx="608.61" cy="188.39" r="2.6" fill="#D95319"/>
<circle cx="517.21" cy="333.79" r="2.6" fill="#0072BD"/>
<circle cx="497.14" cy="215.01" r="2.6" fill="#D95319"/>
<circle cx="520.05" cy="207.81" r="2.6" fill="#D95319"/>
<circle cx="522.88" cy="81.66" r="2.6" fill="#EDB120"/>
<circle cx="631.72" cy="297.40" r="2.6" fill="#0072BD"/>
<circle cx="608.82" cy="303.12" r="2.6" fill="#0072BD"/>
<circle cx="565.65" cy="73.96" r="2.6" fill="#EDB120"/>
<circle cx="585.71" cy="192.69" r="2.6" fill="#D95319"/>
<circle cx="540.11" cy="323.55" r="2.6" fill="#0072BD"/>
<circle cx="585.92" cy="309.04" r="2.6" fill="#0072BD"/>
<circle cx="563.01" cy="315.77" r="2.6" fill="#0072BD"/>
<circle cx="562.81" cy="197.98" r="2.6" fill="#D95319"/>
<circle cx="471.20" cy="226.22" r="2.6" fill="#D95319"/>
<circle cx="514.17" cy="337.23" r="2.6" fill="#0072BD"/>
<circle cx="651.58" cy="293.86" r="2.6" fill="#0072BD"/>
<circle cx="542.75" cy="77.79" r="2.6" fill="#EDB120"/>
<circle cx="539.91" cy="203.31" r="2.6" fill="#D95319"/>
<circle cx="494.11" cy="217.36" r="2.6" fill="#D95319"/>
<circle cx="517.01" cy="209.93" r="2.6" fill="#D95319"/>
<circle cx="605.57" cy="189.97" r="2.6" fill="#D95319"/>
<circle cx="519.84" cy="83.79" r="2.6" fill="#EDB120"/>
<circle cx="628.68" cy="298.95" r="2.6" fill="#0072BD"/>
<circle cx="605.78" cy="304.77" r="2.6" fill="#0072BD"/>
<circle cx="537.07" cy="326.05" r="2.6" fill="#0072BD"/>
<circle cx="582.67" cy="194.38" r="2.6" fill="#D95319"/>
<circle cx="562.61" cy="75.37" r="2.6" fill="#EDB120"/>
<circle cx="511.13" cy="341.11" r="2.6" fill="#0072BD"/>
<circle cx="582.88" cy="310.84" r="2.6" fill="#0072BD"/>
<circle cx="559.97" cy="317.82" r="2.6" fill="#0072BD"/>
<circle cx="468.16" cy="228.93" r="2.6" fill="#D95319"/>
<circle cx="559.77" cy="199.79" r="2.6" fill="#D95319"/>
<circle cx="539.71" cy="79.66" r="2.6" fill="#EDB120"/>
<circle cx="491.06" cy="219.79" r="2.6" fill="#D95319"/>
<circle cx="536.87" cy="205.30" r="2.6" fill="#D95319"/>
<circle cx="648.54" cy="295.36" r="2.6" fill="#0072BD"/>
<circle cx="513.97" cy="212.10" r="2.6" fill="#D95319"/>
<circle cx="516.80" cy="85.99" r="2.6" fill="#EDB120"/>
<circle cx="602.53" cy="191.57" r="2.6" fill="#D95319"/>
<circle cx="508.09" cy="345.58" r="2.6" fill="#0072BD"/>
<circle cx="625.64" cy="300.53" r="2.6" fill="#0072BD"/>
<circle cx="534.03" cy="328.72" r="2.6" fill="#0072BD"/>
<circle cx="602.74" cy="306.45" r="2.6" fill="#0072BD"/>
<circle cx="579.63" cy="196.09" r="2.6" fill="#D95319"/>
<circle cx="465.12" cy="231.73" r="2.6" fill="#D95319"/>
<circle cx="559.57" cy="76.90" r="2.6" fill="#EDB120"/>
<circle cx="556.93" cy="319.96" r="2.6" fill="#0072BD"/>
<circle cx="579.84" cy="312.69" r="2.6" fill="#0072BD"/>
<circle cx="622.39" cy="189.34" r="2.6" fill="#D95319"/>
<circle cx="505.05" cy="350.85" r="2.6" fill="#0072BD"/>
<circle cx="556.73" cy="201.63" r="2.6" fill="#D95319"/>
<circle cx="579.43" cy="76.48" r="2.6" fill="#EDB120"/>
<circle cx="488.02" cy="222.30" r="2.6" fill="#D95319"/>
<circle cx="536.66" cy="81.62" r="2.6" fill="#EDB120"/>
<circle cx="533.83" cy="207.33" r="2.6" fill="#D95319"/>
<circle cx="510.93" cy="214.33" r="2.6" fill="#D95319"/>
<circle cx="513.76" cy="88.25" r="2.6" fill="#EDB120"/>
<circle cx="645.50" cy="296.88" r="2.6" fill="#0072BD"/>
<circle cx="502.01" cy="357.26" r="2.6" fill="#0072BD"/>
<circle cx="599.49" cy="193.19" r="2.6" fill="#D95319"/>
<circle cx="530.99" cy="331.63" r="2.6" fill="#0072BD"/>
<circle cx="622.60" cy="302.14" r="2.6" fill="#0072BD"/>
<circle cx="462.08" cy="234.65" r="2.6" fill="#D95319"/>
<circle cx="599.70" cy="308.18" r="2.6" fill="#0072BD"/>
<circle cx="553.89" cy="322.21" r="2.6" fill="#0072BD"/>
<circle cx="576.59" cy="197.83" r="2.6" fill="#D95319"/>
<circle cx="576.80" cy="314.61" r="2.6" fill="#0072BD"/>
<circle cx="556.53" cy="78.53" r="2.6" fill="#EDB120"/>
<circle cx="619.36" cy="190.88" r="2.6" fill="#D95319"/>
<circle cx="553.69" cy="203.51" r="2.6" fill="#D95319"/>
<circle cx="484.99" cy="224.90" r="2.6" fill="#D95319"/>
<circle cx="459.04" cy="240.37" r="2.6" fill="#D95319"/>
<circle cx="533.62" cy="83.66" r="2.6" fill="#EDB120"/>
<circle cx="507.89" cy="216.62" r="2.6" fill="#D95319"/>
<circle cx="530.79" cy="209.41" r="2.6" fill="#D95319"/>
<circle cx="510.72" cy="90.58" r="2.6" fill="#EDB120"/>
<circle cx="576.39" cy="77.73" r="2.6" fill="#EDB120"/>
<circle cx="527.95" cy="334.81" r="2.6" fill="#0072BD"/>
<circle cx="642.46" cy="298.43" r="2.6" fill="#0072BD"/>
<circle cx="596.45" cy="194.84" r="2.6" fill="#D95319"/>
<circle cx="619.56" cy="303.78" r="2.6" fill="#0072BD"/>
<circle cx="550.85" cy="324.60" r="2.6" fill="#0072BD"/>
<circle cx="596.66" cy="309.95" r="2.6" fill="#0072BD"/>
<circle cx="573.55" cy="199.60" r="2.6" fill="#D95319"/>
<circle cx="573.75" cy="316.60" r="2.6" fill="#0072BD"/>
<circle cx="553.49" cy="80.26" r="2.6" fill="#EDB120"/>
<circle cx="481.94" cy="227.61" r="2.6" fill="#D95319"/>
<circle cx="550.65" cy="205.43" r="2.6" fill="#D95319"/>
<circle cx="524.91" cy="338.36" r="2.6" fill="#0072BD"/>
<circle cx="616.32" cy="192.44" r="2.6" fill="#D95319"/>
<circle cx="504.85" cy="219.00" r="2.6" fill="#D95319"/>
<circle cx="507.68" cy="92.96" r="2.6" fill="#EDB120"/>
<circle cx="530.59" cy="85.78" r="2.6" fill="#EDB120"/>
<circle cx="527.75" cy="211.54" r="2.6" fill="#D95319"/>
<circle cx="573.35" cy="79.10" r="2.6" fill="#EDB120"/>
<circle cx="639.42" cy="300.00" r="2.6" fill="#0072BD"/>
<circle cx="593.41" cy="196.51" r="2.6" fill="#D95319"/>
<circle cx="547.81" cy="327.15" r="2.6" fill="#0072BD"/>
<circle cx="616.52" cy="305.45" r="2.6" fill="#0072BD"/>
<circle cx="521.87" cy="342.37" r="2.6" fill="#0072BD"/>
<circle cx="478.90" cy="230.43" r="2.6" fill="#D95319"/>
<circle cx="593.62" cy="311.77" r="2.6" fill="#0072BD"/>
<circle cx="570.72" cy="318.67" r="2.6" fill="#0072BD"/>
<circle cx="570.51" cy="201.40" r="2.6" fill="#D95319"/>
<circle cx="550.45" cy="82.09" r="2.6" fill="#EDB120"/>
<circle cx="547.61" cy="207.39" r="2.6" fill="#D95319"/>
<circle cx="501.81" cy="221.45" r="2.6" fill="#D95319"/>
<circle cx="504.64" cy="95.40" r="2.6" fill="#EDB120"/>
<circle cx="613.28" cy="194.02" r="2.6" fill="#D95319"/>
<circle cx="527.54" cy="87.98" r="2.6" fill="#EDB120"/>
<circle cx="524.71" cy="213.74" r="2.6" fill="#D95319"/>
<circle cx="518.83" cy="347.00" r="2.6" fill="#0072BD"/>
<circle cx="570.31" cy="80.59" r="2.6" fill="#EDB120"/>
<circle cx="636.38" cy="301.60" r="2.6" fill="#0072BD"/>
<circle cx="544.77" cy="329.89" r="2.6" fill="#0072BD"/>
<circle cx="590.37" cy="198.20" r="2.6" fill="#D95319"/>
<circle cx="590.17" cy="80.54" r="2.6" fill="#EDB120"/>
<circle cx="475.87" cy="233.39" r="2.6" fill="#D95319"/>
<circle cx="633.14" cy="191.65" r="2.6" fill="#D95319"/>
<circle cx="613.48" cy="307.16" r="2.6" fill="#0072BD"/>
<circle cx="567.68" cy="320.85" r="2.6" fill="#0072BD"/>
<circle cx="590.58" cy="313.65" r="2.6" fill="#0072BD"/>
<circle cx="515.79" cy="352.46" r="2.6" fill="#0072BD"/>
<circle cx="567.47" cy="203.24" r="2.6" fill="#D95319"/>
<circle cx="547.41" cy="84.00" r="2.6" fill="#EDB120"/>
<circle cx="498.77" cy="224.01" r="2.6" fill="#D95319"/>
<circle cx="501.60" cy="97.90" r="2.6" fill="#EDB120"/>
<circle cx="544.57" cy="209.40" r="2.6" fill="#D95319"/>
<circle cx="524.50" cy="90.24" r="2.6" fill="#EDB120"/>
<circle cx="521.67" cy="216.00" r="2.6" fill="#D95319"/>
<circle cx="512.75" cy="359.10" r="2.6" fill="#0072BD"/>
<circle cx="610.24" cy="195.62" r="2.6" fill="#D95319"/>
<circle cx="541.73" cy="332.87" r="2.6" fill="#0072BD"/>
<circle cx="567.27" cy="82.18" r="2.6" fill="#EDB120"/>
<circle cx="472.82" cy="236.51" r="2.6" fill="#D95319"/>
<circle cx="633.34" cy="303.22" r="2.6" fill="#0072BD"/>
<circle cx="587.33" cy="199.92" r="2.6" fill="#D95319"/>
<circle cx="587.13" cy="81.77" r="2.6" fill="#EDB120"/>
<circle cx="610.44" cy="308.92" r="2.6" fill="#0072BD"/>
<circle cx="564.63" cy="323.14" r="2.6" fill="#0072BD"/>
<circle cx="630.10" cy="193.18" r="2.6" fill="#D95319"/>
<circle cx="587.54" cy="315.60" r="2.6" fill="#0072BD"/>
<circle cx="495.73" cy="226.67" r="2.6" fill="#D95319"/>
<circle cx="564.43" cy="205.11" r="2.6" fill="#D95319"/>
<circle cx="498.56" cy="100.45" r="2.6" fill="#EDB120"/>
<circle cx="469.79" cy="242.29" r="2.6" fill="#D95319"/>
<circle cx="544.37" cy="85.99" r="2.6" fill="#EDB120"/>
<circle cx="541.53" cy="211.46" r="2.6" fill="#D95319"/>
<circle cx="521.47" cy="92.58" r="2.6" fill="#EDB120"/>
<circle cx="518.63" cy="218.34" r="2.6" fill="#D95319"/>
<circle cx="538.69" cy="336.14" r="2.6" fill="#0072BD"/>
<circle cx="607.20" cy="197.24" r="2.6" fill="#D95319"/>
<circle cx="564.23" cy="83.86" r="2.6" fill="#EDB120"/>
<circle cx="630.30" cy="304.88" r="2.6" fill="#0072BD"/>
<circle cx="584.29" cy="201.67" r="2.6" fill="#D95319"/>
<circle cx="561.60" cy="325.57" r="2.6" fill="#0072BD"/>
<circle cx="492.69" cy="229.45" r="2.6" fill="#D95319"/>
<circle cx="607.40" cy="310.72" r="2.6" fill="#0072BD"/>
<circle cx="584.50" cy="317.62" r="2.6" fill="#0072BD"/>
<circle cx="495.52" cy="103.06" r="2.6" fill="#EDB120"/>
<circle cx="627.06" cy="194.72" r="2.6" fill="#D95319"/>
<circle cx="584.09" cy="83.11" r="2.6" fill="#EDB120"/>
<circle cx="561.39" cy="207.03" r="2.6" fill="#D95319"/>
<circle cx="541.33" cy="88.07" r="2.6" fill="#EDB120"/>
<circle cx="535.65" cy="339.79" r="2.6" fill="#0072BD"/>
<circle cx="518.42" cy="94.98" r="2.6" fill="#EDB120"/>
<circle cx="515.59" cy="220.77" r="2.6" fill="#D95319"/>
<circle cx="538.49" cy="213.57" r="2.6" fill="#D95319"/>
<circle cx="604.16" cy="198.89" r="2.6" fill="#D95319"/>
<circle cx="561.19" cy="85.65" r="2.6" fill="#EDB120"/>
<circle cx="558.56" cy="328.16" r="2.6" fill="#0072BD"/>
<circle cx="627.26" cy="306.57" r="2.6" fill="#0072BD"/>
<circle cx="489.65" cy="232.39" r="2.6" fill="#D95319"/>
<circle cx="532.61" cy="343.92" r="2.6" fill="#0072BD"/>
<circle cx="581.25" cy="203.46" r="2.6" fill="#D95319"/>
<circle cx="492.48" cy="105.72" r="2.6" fill="#EDB120"/>
<circle cx="604.36" cy="312.58" r="2.6" fill="#0072BD"/>
<circle cx="581.46" cy="319.73" r="2.6" fill="#0072BD"/>
<circle cx="515.38" cy="97.45" r="2.6" fill="#EDB120"/>
<circle cx="624.02" cy="196.28" r="2.6" fill="#D95319"/>
<circle cx="538.29" cy="90.23" r="2.6" fill="#EDB120"/>
<circle cx="558.35" cy="208.99" r="2.6" fill="#D95319"/>
<circle cx="512.55" cy="223.29" r="2.6" fill="#D95319"/>
<circle cx="581.05" cy="84.55" r="2.6" fill="#EDB120"/>
<circle cx="535.45" cy="215.76" r="2.6" fill="#D95319"/>
<circle cx="600.91" cy="84.46" r="2.6" fill="#EDB120"/>
<circle cx="529.57" cy="348.70" r="2.6" fill="#0072BD"/>
<circle cx="601.12" cy="200.56" r="2.6" fill="#D95319"/>
<circle cx="486.61" cy="235.49" r="2.6" fill="#D95319"/>
<circle cx="643.88" cy="193.97" r="2.6" fill="#D95319"/>
<circle cx="555.52" cy="330.96" r="2.6" fill="#0072BD"/>
<circle cx="558.15" cy="87.52" r="2.6" fill="#EDB120"/>
<circle cx="489.44" cy="108.42" r="2.6" fill="#EDB120"/>
<circle cx="624.22" cy="308.31" r="2.6" fill="#0072BD"/>
<circle cx="526.53" cy="354.34" r="2.6" fill="#0072BD"/>
<circle cx="578.21" cy="205.28" r="2.6" fill="#D95319"/>
<circle cx="578.42" cy="321.95" r="2.6" fill="#0072BD"/>
<circle cx="601.32" cy="314.49" r="2.6" fill="#0072BD"/>
<circle cx="509.51" cy="225.92" r="2.6" fill="#D95319"/>
<circle cx="512.35" cy="99.99" r="2.6" fill="#EDB120"/>
<circle cx="535.25" cy="92.47" r="2.6" fill="#EDB120"/>
<circle cx="555.31" cy="211.00" r="2.6" fill="#D95319"/>
<circle cx="532.41" cy="218.01" r="2.6" fill="#D95319"/>
<circle cx="620.98" cy="197.87" r="2.6" fill="#D95319"/>
<circle cx="523.49" cy="361.22" r="2.6" fill="#0072BD"/>
<circle cx="578.01" cy="86.09" r="2.6" fill="#EDB120"/>
<circle cx="483.57" cy="238.81" r="2.6" fill="#D95319"/>
<circle cx="597.87" cy="85.68" r="2.6" fill="#EDB120"/>
<circle cx="552.48" cy="334.00" r="2.6" fill="#0072BD"/>
<circle cx="598.08" cy="202.26" r="2.6" fill="#D95319"/>
<circle cx="486.40" cy="111.18" r="2.6" fill="#EDB120"/>
<circle cx="555.11" cy="89.49" r="2.6" fill="#EDB120"/>
<circle cx="640.84" cy="195.48" r="2.6" fill="#D95319"/>
<circle cx="621.18" cy="310.08" r="2.6" fill="#0072BD"/>
<circle cx="506.47" cy="228.69" r="2.6" fill="#D95319"/>
<circle cx="480.53" cy="244.60" r="2.6" fill="#D95319"/>
<circle cx="575.17" cy="207.13" r="2.6" fill="#D95319"/>
<circle cx="575.38" cy="324.29" r="2.6" fill="#0072BD"/>
<circle cx="509.31" cy="102.59" r="2.6" fill="#EDB120"/>
<circle cx="598.28" cy="316.48" r="2.6" fill="#0072BD"/>
<circle cx="532.21" cy="94.78" r="2.6" fill="#EDB120"/>
<circle cx="529.37" cy="220.35" r="2.6" fill="#D95319"/>
<circle cx="552.27" cy="213.07" r="2.6" fill="#D95319"/>
<circle cx="617.94" cy="199.47" r="2.6" fill="#D95319"/>
<circle cx="574.97" cy="87.72" r="2.6" fill="#EDB120"/>
<circle cx="549.44" cy="337.34" r="2.6" fill="#0072BD"/>
<circle cx="594.83" cy="86.99" r="2.6" fill="#EDB120"/>
<circle cx="483.36" cy="113.98" r="2.6" fill="#EDB120"/>
<circle cx="595.04" cy="203.99" r="2.6" fill="#D95319"/>
<circle cx="552.07" cy="91.54" r="2.6" fill="#EDB120"/>
<circle cx="503.43" cy="231.60" r="2.6" fill="#D95319"/>
<circle cx="637.80" cy="197.00" r="2.6" fill="#D95319"/>
<circle cx="506.26" cy="105.25" r="2.6" fill="#EDB120"/>
<circle cx="572.34" cy="326.77" r="2.6" fill="#0072BD"/>
<circle cx="618.14" cy="311.91" r="2.6" fill="#0072BD"/>
<circle cx="572.13" cy="209.04" r="2.6" fill="#D95319"/>
<circle cx="529.17" cy="97.17" r="2.6" fill="#EDB120"/>
<circle cx="595.24" cy="318.55" r="2.6" fill="#0072BD"/>
<circle cx="526.33" cy="222.78" r="2.6" fill="#D95319"/>
<circle cx="549.23" cy="215.21" r="2.6" fill="#D95319"/>
<circle cx="546.40" cy="341.07" r="2.6" fill="#0072BD"/>
<circle cx="614.90" cy="201.10" r="2.6" fill="#D95319"/>
<circle cx="571.93" cy="89.45" r="2.6" fill="#EDB120"/>
<circle cx="480.32" cy="116.83" r="2.6" fill="#EDB120"/>
<circle cx="500.39" cy="234.69" r="2.6" fill="#D95319"/>
<circle cx="592.00" cy="205.75" r="2.6" fill="#D95319"/>
<circle cx="591.79" cy="88.40" r="2.6" fill="#EDB120"/>
<circle cx="549.03" cy="93.68" r="2.6" fill="#EDB120"/>
<circle cx="503.23" cy="107.97" r="2.6" fill="#EDB120"/>
<circle cx="569.30" cy="329.42" r="2.6" fill="#0072BD"/>
<circle cx="543.36" cy="345.30" r="2.6" fill="#0072BD"/>
<circle cx="611.65" cy="88.66" r="2.6" fill="#EDB120"/>
<circle cx="634.76" cy="198.54" r="2.6" fill="#D95319"/>
<circle cx="526.13" cy="99.64" r="2.6" fill="#EDB120"/>
<circle cx="523.29" cy="225.32" r="2.6" fill="#D95319"/>
<circle cx="569.09" cy="210.99" r="2.6" fill="#D95319"/>
<circle cx="615.10" cy="313.80" r="2.6" fill="#0072BD"/>
<circle cx="592.20" cy="320.72" r="2.6" fill="#0072BD"/>
<circle cx="546.19" cy="217.41" r="2.6" fill="#D95319"/>
<circle cx="568.89" cy="91.27" r="2.6" fill="#EDB120"/>
<circle cx="540.32" cy="350.20" r="2.6" fill="#0072BD"/>
<circle cx="611.86" cy="202.75" r="2.6" fill="#D95319"/>
<circle cx="477.28" cy="119.73" r="2.6" fill="#EDB120"/>
<circle cx="654.62" cy="196.89" r="2.6" fill="#D95319"/>
<circle cx="497.35" cy="238.00" r="2.6" fill="#D95319"/>
<circle cx="500.19" cy="110.75" r="2.6" fill="#EDB120"/>
<circle cx="566.26" cy="332.29" r="2.6" fill="#0072BD"/>
<circle cx="588.96" cy="207.55" r="2.6" fill="#D95319"/>
<circle cx="545.99" cy="95.90" r="2.6" fill="#EDB120"/>
<circle cx="588.75" cy="89.90" r="2.6" fill="#EDB120"/>
<circle cx="537.28" cy="355.99" r="2.6" fill="#0072BD"/>
<circle cx="523.09" cy="102.17" r="2.6" fill="#EDB120"/>
<circle cx="520.25" cy="227.98" r="2.6" fill="#D95319"/>
<circle cx="566.05" cy="212.99" r="2.6" fill="#D95319"/>
<circle cx="589.16" cy="322.99" r="2.6" fill="#0072BD"/>
<circle cx="612.06" cy="315.74" r="2.6" fill="#0072BD"/>
<circle cx="631.72" cy="200.10" r="2.6" fill="#D95319"/>
<circle cx="608.61" cy="89.87" r="2.6" fill="#EDB120"/>
<circle cx="543.15" cy="219.69" r="2.6" fill="#D95319"/>
<circle cx="534.24" cy="363.07" r="2.6" fill="#0072BD"/>
<circle cx="494.31" cy="241.58" r="2.6" fill="#D95319"/>
<circle cx="474.24" cy="122.68" r="2.6" fill="#EDB120"/>
<circle cx="565.85" cy="93.18" r="2.6" fill="#EDB120"/>
<circle cx="608.82" cy="204.44" r="2.6" fill="#D95319"/>
<circle cx="651.58" cy="198.37" r="2.6" fill="#D95319"/>
<circle cx="563.22" cy="335.40" r="2.6" fill="#0072BD"/>
<circle cx="497.14" cy="113.59" r="2.6" fill="#EDB120"/>
<circle cx="491.27" cy="247.53" r="2.6" fill="#D95319"/>
<circle cx="542.95" cy="98.21" r="2.6" fill="#EDB120"/>
<circle cx="585.92" cy="209.39" r="2.6" fill="#D95319"/>
<circle cx="517.21" cy="230.78" r="2.6" fill="#D95319"/>
<circle cx="520.05" cy="104.78" r="2.6" fill="#EDB120"/>
<circle cx="585.71" cy="91.49" r="2.6" fill="#EDB120"/>
<circle cx="586.12" cy="325.39" r="2.6" fill="#0072BD"/>
<circle cx="563.01" cy="215.05" r="2.6" fill="#D95319"/>
<circle cx="609.02" cy="317.77" r="2.6" fill="#0072BD"/>
<circle cx="540.11" cy="222.06" r="2.6" fill="#D95319"/>
<circle cx="628.68" cy="201.69" r="2.6" fill="#D95319"/>
<circle cx="471.20" cy="125.66" r="2.6" fill="#EDB120"/>
<circle cx="605.57" cy="91.15" r="2.6" fill="#EDB120"/>
<circle cx="560.18" cy="338.84" r="2.6" fill="#0072BD"/>
<circle cx="562.81" cy="95.19" r="2.6" fill="#EDB120"/>
<circle cx="494.11" cy="116.49" r="2.6" fill="#EDB120"/>
<circle cx="605.78" cy="206.15" r="2.6" fill="#D95319"/>
<circle cx="648.54" cy="199.87" r="2.6" fill="#D95319"/>
<circle cx="514.17" cy="233.76" r="2.6" fill="#D95319"/>
<circle cx="539.91" cy="100.60" r="2.6" fill="#EDB120"/>
<circle cx="517.01" cy="107.45" r="2.6" fill="#EDB120"/>
<circle cx="582.88" cy="211.27" r="2.6" fill="#D95319"/>
<circle cx="583.08" cy="327.94" r="2.6" fill="#0072BD"/>
<circle cx="582.67" cy="93.18" r="2.6" fill="#EDB120"/>
<circle cx="537.07" cy="224.54" r="2.6" fill="#D95319"/>
<circle cx="468.16" cy="128.70" r="2.6" fill="#EDB120"/>
<circle cx="559.97" cy="217.18" r="2.6" fill="#D95319"/>
<circle cx="605.98" cy="319.87" r="2.6" fill="#0072BD"/>
<circle cx="557.14" cy="342.68" r="2.6" fill="#0072BD"/>
<circle cx="625.64" cy="203.30" r="2.6" fill="#D95319"/>
<circle cx="602.53" cy="92.53" r="2.6" fill="#EDB120"/>
<circle cx="491.06" cy="119.44" r="2.6" fill="#EDB120"/>
<circle cx="559.77" cy="97.28" r="2.6" fill="#EDB120"/>
<circle cx="622.39" cy="92.99" r="2.6" fill="#EDB120"/>
<circle cx="511.13" cy="236.94" r="2.6" fill="#D95319"/>
<circle cx="602.74" cy="207.90" r="2.6" fill="#D95319"/>
<circle cx="536.87" cy="103.08" r="2.6" fill="#EDB120"/>
<circle cx="513.97" cy="110.20" r="2.6" fill="#EDB120"/>
<circle cx="645.50" cy="201.39" r="2.6" fill="#D95319"/>
<circle cx="554.10" cy="347.03" r="2.6" fill="#0072BD"/>
<circle cx="580.04" cy="330.67" r="2.6" fill="#0072BD"/>
<circle cx="579.84" cy="213.21" r="2.6" fill="#D95319"/>
<circle cx="465.12" cy="131.77" r="2.6" fill="#EDB120"/>
<circle cx="534.03" cy="227.13" r="2.6" fill="#D95319"/>
<circle cx="556.93" cy="219.39" r="2.6" fill="#D95319"/>
<circle cx="579.63" cy="94.97" r="2.6" fill="#EDB120"/>
<circle cx="602.94" cy="322.08" r="2.6" fill="#0072BD"/>
<circle cx="488.02" cy="122.45" r="2.6" fill="#EDB120"/>
<circle cx="622.60" cy="204.93" r="2.6" fill="#D95319"/>
<circle cx="551.06" cy="352.08" r="2.6" fill="#0072BD"/>
<circle cx="508.09" cy="240.38" r="2.6" fill="#D95319"/>
<circle cx="599.49" cy="93.99" r="2.6" fill="#EDB120"/>
<circle cx="556.73" cy="99.46" r="2.6" fill="#EDB120"/>
<circle cx="510.93" cy="113.01" r="2.6" fill="#EDB120"/>
<circle cx="533.83" cy="105.63" r="2.6" fill="#EDB120"/>
<circle cx="619.36" cy="94.19" r="2.6" fill="#EDB120"/>
<circle cx="599.70" cy="209.69" r="2.6" fill="#D95319"/>
<circle cx="577.00" cy="333.62" r="2.6" fill="#0072BD"/>
<circle cx="462.08" cy="134.89" r="2.6" fill="#EDB120"/>
<circle cx="548.02" cy="358.07" r="2.6" fill="#0072BD"/>
<circle cx="642.46" cy="202.93" r="2.6" fill="#D95319"/>
<circle cx="530.99" cy="229.87" r="2.6" fill="#D95319"/>
<circle cx="576.80" cy="215.20" r="2.6" fill="#D95319"/>
<circle cx="544.98" cy="365.38" r="2.6" fill="#0072BD"/>
<circle cx="553.89" cy="221.68" r="2.6" fill="#D95319"/>
<circle cx="599.90" cy="324.39" r="2.6" fill="#0072BD"/>
<circle cx="484.99" cy="125.51" r="2.6" fill="#EDB120"/>
<circle cx="576.59" cy="96.84" r="2.6" fill="#EDB120"/>
<circle cx="505.05" cy="244.13" r="2.6" fill="#D95319"/>
<circle cx="619.56" cy="206.60" r="2.6" fill="#D95319"/>
<circle cx="553.69" cy="101.74" r="2.6" fill="#EDB120"/>
<circle cx="507.89" cy="115.89" r="2.6" fill="#EDB120"/>
<circle cx="596.45" cy="95.55" r="2.6" fill="#EDB120"/>
<circle cx="530.79" cy="108.26" r="2.6" fill="#EDB120"/>
<circle cx="502.01" cy="250.04" r="2.6" fill="#D95319"/>
<circle cx="573.96" cy="336.84" r="2.6" fill="#0072BD"/>
<circle cx="459.04" cy="138.05" r="2.6" fill="#EDB120"/>
<circle cx="596.66" cy="211.52" r="2.6" fill="#D95319"/>
<circle cx="527.95" cy="232.77" r="2.6" fill="#D95319"/>
<circle cx="616.32" cy="95.45" r="2.6" fill="#EDB120"/>
<circle cx="573.75" cy="217.25" r="2.6" fill="#D95319"/>
<circle cx="639.42" cy="204.49" r="2.6" fill="#D95319"/>
<circle cx="481.94" cy="128.63" r="2.6" fill="#EDB120"/>
<circle cx="550.85" cy="224.06" r="2.6" fill="#D95319"/>
<circle cx="596.86" cy="326.84" r="2.6" fill="#0072BD"/>
<circle cx="573.55" cy="98.82" r="2.6" fill="#EDB120"/>
<circle cx="504.85" cy="118.83" r="2.6" fill="#EDB120"/>
<circle cx="570.92" cy="340.40" r="2.6" fill="#0072BD"/>
<circle cx="550.65" cy="104.10" r="2.6" fill="#EDB120"/>
<circle cx="616.52" cy="208.30" r="2.6" fill="#D95319"/>
<circle cx="527.75" cy="110.97" r="2.6" fill="#EDB120"/>
<circle cx="524.91" cy="235.87" r="2.6" fill="#D95319"/>
<circle cx="593.41" cy="97.20" r="2.6" fill="#EDB120"/>
<circle cx="593.62" cy="213.40" r="2.6" fill="#D95319"/>
<circle cx="478.90" cy="131.81" r="2.6" fill="#EDB120"/>
<circle cx="613.28" cy="96.80" r="2.6" fill="#EDB120"/>
<circle cx="593.82" cy="329.45" r="2.6" fill="#0072BD"/>
<circle cx="547.81" cy="226.56" r="2.6" fill="#D95319"/>
<circle cx="570.72" cy="219.37" r="2.6" fill="#D95319"/>
<circle cx="636.38" cy="206.07" r="2.6" fill="#D95319"/>
<circle cx="633.14" cy="97.65" r="2.6" fill="#EDB120"/>
<circle cx="567.88" cy="344.37" r="2.6" fill="#0072BD"/>
<circle cx="570.51" cy="100.88" r="2.6" fill="#EDB120"/>
<circle cx="501.81" cy="121.85" r="2.6" fill="#EDB120"/>
<circle cx="524.71" cy="113.76" r="2.6" fill="#EDB120"/>
<circle cx="547.61" cy="106.54" r="2.6" fill="#EDB120"/>
<circle cx="521.87" cy="239.21" r="2.6" fill="#D95319"/>
<circle cx="613.48" cy="210.03" r="2.6" fill="#D95319"/>
<circle cx="475.87" cy="135.04" r="2.6" fill="#EDB120"/>
<circle cx="590.37" cy="98.94" r="2.6" fill="#EDB120"/>
<circle cx="564.84" cy="348.90" r="2.6" fill="#0072BD"/>
<circle cx="590.58" cy="215.32" r="2.6" fill="#D95319"/>
<circle cx="590.78" cy="332.25" r="2.6" fill="#0072BD"/>
<circle cx="544.77" cy="229.20" r="2.6" fill="#D95319"/>
<circle cx="567.68" cy="221.57" r="2.6" fill="#D95319"/>
<circle cx="610.24" cy="98.23" r="2.6" fill="#EDB120"/>
<circle cx="498.77" cy="124.92" r="2.6" fill="#EDB120"/>
<circle cx="633.34" cy="207.68" r="2.6" fill="#D95319"/>
<circle cx="567.47" cy="103.05" r="2.6" fill="#EDB120"/>
<circle cx="630.10" cy="98.84" r="2.6" fill="#EDB120"/>
<circle cx="518.83" cy="242.85" r="2.6" fill="#D95319"/>
<circle cx="521.67" cy="116.63" r="2.6" fill="#EDB120"/>
<circle cx="561.80" cy="354.15" r="2.6" fill="#0072BD"/>
<circle cx="544.57" cy="109.07" r="2.6" fill="#EDB120"/>
<circle cx="472.82" cy="138.31" r="2.6" fill="#EDB120"/>
<circle cx="610.44" cy="211.80" r="2.6" fill="#D95319"/>
<circle cx="558.76" cy="360.39" r="2.6" fill="#0072BD"/>
<circle cx="587.74" cy="335.27" r="2.6" fill="#0072BD"/>
<circle cx="587.33" cy="100.78" r="2.6" fill="#EDB120"/>
<circle cx="541.73" cy="231.98" r="2.6" fill="#D95319"/>
<circle cx="555.72" cy="368.04" r="2.6" fill="#0072BD"/>
<circle cx="587.54" cy="217.31" r="2.6" fill="#D95319"/>
<circle cx="564.63" cy="223.87" r="2.6" fill="#D95319"/>
<circle cx="515.79" cy="246.87" r="2.6" fill="#D95319"/>
<circle cx="495.73" cy="128.06" r="2.6" fill="#EDB120"/>
<circle cx="607.20" cy="99.75" r="2.6" fill="#EDB120"/>
<circle cx="564.43" cy="105.30" r="2.6" fill="#EDB120"/>
<circle cx="518.63" cy="119.58" r="2.6" fill="#EDB120"/>
<circle cx="630.30" cy="209.32" r="2.6" fill="#D95319"/>
<circle cx="541.53" cy="111.69" r="2.6" fill="#EDB120"/>
<circle cx="469.79" cy="141.65" r="2.6" fill="#EDB120"/>
<circle cx="627.06" cy="100.09" r="2.6" fill="#EDB120"/>
<circle cx="512.75" cy="252.90" r="2.6" fill="#D95319"/>
<circle cx="584.70" cy="338.57" r="2.6" fill="#0072BD"/>
<circle cx="607.40" cy="213.62" r="2.6" fill="#D95319"/>
<circle cx="538.69" cy="234.96" r="2.6" fill="#D95319"/>
<circle cx="584.29" cy="102.72" r="2.6" fill="#EDB120"/>
<circle cx="492.69" cy="131.27" r="2.6" fill="#EDB120"/>
<circle cx="584.50" cy="219.37" r="2.6" fill="#D95319"/>
<circle cx="561.60" cy="226.27" r="2.6" fill="#D95319"/>
<circle cx="515.59" cy="122.60" r="2.6" fill="#EDB120"/>
<circle cx="561.39" cy="107.65" r="2.6" fill="#EDB120"/>
<circle cx="538.49" cy="114.40" r="2.6" fill="#EDB120"/>
<circle cx="604.16" cy="101.36" r="2.6" fill="#EDB120"/>
<circle cx="627.26" cy="211.00" r="2.6" fill="#D95319"/>
<circle cx="581.66" cy="342.22" r="2.6" fill="#0072BD"/>
<circle cx="624.02" cy="101.42" r="2.6" fill="#EDB120"/>
<circle cx="535.65" cy="238.15" r="2.6" fill="#D95319"/>
<circle cx="643.88" cy="102.38" r="2.6" fill="#EDB120"/>
<circle cx="489.65" cy="134.53" r="2.6" fill="#EDB120"/>
<circle cx="604.36" cy="215.48" r="2.6" fill="#D95319"/>
<circle cx="581.25" cy="104.75" r="2.6" fill="#EDB120"/>
<circle cx="558.56" cy="228.79" r="2.6" fill="#D95319"/>
<circle cx="581.46" cy="221.49" r="2.6" fill="#D95319"/>
<circle cx="512.55" cy="125.69" r="2.6" fill="#EDB120"/>
<circle cx="578.62" cy="346.32" r="2.6" fill="#0072BD"/>
<circle cx="558.35" cy="110.10" r="2.6" fill="#EDB120"/>
<circle cx="535.45" cy="117.19" r="2.6" fill="#EDB120"/>
<circle cx="601.12" cy="103.06" r="2.6" fill="#EDB120"/>
<circle cx="532.61" cy="241.62" r="2.6" fill="#D95319"/>
<circle cx="624.22" cy="212.71" r="2.6" fill="#D95319"/>
<circle cx="486.61" cy="137.86" r="2.6" fill="#EDB120"/>
<circle cx="620.98" cy="102.82" r="2.6" fill="#EDB120"/>
<circle cx="575.58" cy="350.98" r="2.6" fill="#0072BD"/>
<circle cx="640.84" cy="103.57" r="2.6" fill="#EDB120"/>
<circle cx="601.32" cy="217.41" r="2.6" fill="#D95319"/>
<circle cx="509.51" cy="128.86" r="2.6" fill="#EDB120"/>
<circle cx="555.52" cy="231.45" r="2.6" fill="#D95319"/>
<circle cx="578.21" cy="106.88" r="2.6" fill="#EDB120"/>
<circle cx="578.42" cy="223.71" r="2.6" fill="#D95319"/>
<circle cx="532.41" cy="120.07" r="2.6" fill="#EDB120"/>
<circle cx="555.31" cy="112.63" r="2.6" fill="#EDB120"/>
<circle cx="529.57" cy="245.44" r="2.6" fill="#D95319"/>
<circle cx="572.54" cy="356.40" r="2.6" fill="#0072BD"/>
<circle cx="483.57" cy="141.25" r="2.6" fill="#EDB120"/>
<circle cx="598.08" cy="104.86" r="2.6" fill="#EDB120"/>
<circle cx="621.18" cy="214.46" r="2.6" fill="#D95319"/>
<circle cx="569.50" cy="362.85" r="2.6" fill="#0072BD"/>
<circle cx="506.47" cy="132.11" r="2.6" fill="#EDB120"/>
<circle cx="566.46" cy="370.76" r="2.6" fill="#0072BD"/>
<circle cx="552.48" cy="234.28" r="2.6" fill="#D95319"/>
<circle cx="617.94" cy="104.30" r="2.6" fill="#EDB120"/>
<circle cx="526.53" cy="249.69" r="2.6" fill="#D95319"/>
<circle cx="598.28" cy="219.39" r="2.6" fill="#D95319"/>
<circle cx="575.17" cy="109.12" r="2.6" fill="#EDB120"/>
<circle cx="575.38" cy="226.02" r="2.6" fill="#D95319"/>
<circle cx="637.80" cy="104.80" r="2.6" fill="#EDB120"/>
<circle cx="529.37" cy="123.03" r="2.6" fill="#EDB120"/>
<circle cx="552.27" cy="115.27" r="2.6" fill="#EDB120"/>
<circle cx="480.53" cy="144.70" r="2.6" fill="#EDB120"/>
<circle cx="523.49" cy="255.75" r="2.6" fill="#D95319"/>
<circle cx="503.43" cy="135.43" r="2.6" fill="#EDB120"/>
<circle cx="595.04" cy="106.76" r="2.6" fill="#EDB120"/>
<circle cx="618.14" cy="216.26" r="2.6" fill="#D95319"/>
<circle cx="549.44" cy="237.32" r="2.6" fill="#D95319"/>
<circle cx="526.33" cy="126.07" r="2.6" fill="#EDB120"/>
<circle cx="572.13" cy="111.45" r="2.6" fill="#EDB120"/>
<circle cx="595.24" cy="221.44" r="2.6" fill="#D95319"/>
<circle cx="614.90" cy="105.87" r="2.6" fill="#EDB120"/>
<circle cx="572.34" cy="228.45" r="2.6" fill="#D95319"/>
<circle cx="549.23" cy="117.99" r="2.6" fill="#EDB120"/>
<circle cx="634.76" cy="106.10" r="2.6" fill="#EDB120"/>
<circle cx="654.62" cy="106.91" r="2.6" fill="#EDB120"/>
<circle cx="500.39" cy="138.82" r="2.6" fill="#EDB120"/>
<circle cx="546.40" cy="240.61" r="2.6" fill="#D95319"/>
<circle cx="592.00" cy="108.75" r="2.6" fill="#EDB120"/>
<circle cx="615.10" cy="218.10" r="2.6" fill="#D95319"/>
<circle cx="523.29" cy="129.20" r="2.6" fill="#EDB120"/>
<circle cx="569.09" cy="113.88" r="2.6" fill="#EDB120"/>
<circle cx="569.30" cy="231.01" r="2.6" fill="#D95319"/>
<circle cx="546.19" cy="120.82" r="2.6" fill="#EDB120"/>
<circle cx="592.20" cy="223.57" r="2.6" fill="#D95319"/>
<circle cx="611.86" cy="107.54" r="2.6" fill="#EDB120"/>
<circle cx="497.35" cy="142.28" r="2.6" fill="#EDB120"/>
<circle cx="631.72" cy="107.48" r="2.6" fill="#EDB120"/>
<circle cx="543.36" cy="244.20" r="2.6" fill="#D95319"/>
<circle cx="651.58" cy="108.09" r="2.6" fill="#EDB120"/>
<circle cx="520.25" cy="132.41" r="2.6" fill="#EDB120"/>
<circle cx="588.96" cy="110.85" r="2.6" fill="#EDB120"/>
<circle cx="612.06" cy="220.01" r="2.6" fill="#D95319"/>
<circle cx="543.15" cy="123.73" r="2.6" fill="#EDB120"/>
<circle cx="566.26" cy="233.73" r="2.6" fill="#D95319"/>
<circle cx="566.05" cy="116.42" r="2.6" fill="#EDB120"/>
<circle cx="589.16" cy="225.80" r="2.6" fill="#D95319"/>
<circle cx="494.31" cy="145.82" r="2.6" fill="#EDB120"/>
<circle cx="540.32" cy="248.18" r="2.6" fill="#D95319"/>
<circle cx="608.82" cy="109.30" r="2.6" fill="#EDB120"/>
<circle cx="628.68" cy="108.93" r="2.6" fill="#EDB120"/>
<circle cx="517.21" cy="135.71" r="2.6" fill="#EDB120"/>
<circle cx="648.54" cy="109.32" r="2.6" fill="#EDB120"/>
<circle cx="585.92" cy="113.06" r="2.6" fill="#EDB120"/>
<circle cx="540.11" cy="126.74" r="2.6" fill="#EDB120"/>
<circle cx="537.28" cy="252.66" r="2.6" fill="#D95319"/>
<circle cx="563.22" cy="236.64" r="2.6" fill="#D95319"/>
<circle cx="491.27" cy="149.43" r="2.6" fill="#EDB120"/>
<circle cx="609.02" cy="221.98" r="2.6" fill="#D95319"/>
<circle cx="563.01" cy="119.06" r="2.6" fill="#EDB120"/>
<circle cx="586.12" cy="228.13" r="2.6" fill="#D95319"/>
<circle cx="534.24" cy="258.74" r="2.6" fill="#D95319"/>
<circle cx="605.78" cy="111.17" r="2.6" fill="#EDB120"/>
<circle cx="514.17" cy="139.08" r="2.6" fill="#EDB120"/>
<circle cx="625.64" cy="110.47" r="2.6" fill="#EDB120"/>
<circle cx="537.07" cy="129.85" r="2.6" fill="#EDB120"/>
<circle cx="560.18" cy="239.77" r="2.6" fill="#D95319"/>
<circle cx="582.88" cy="115.37" r="2.6" fill="#EDB120"/>
<circle cx="559.97" cy="121.79" r="2.6" fill="#EDB120"/>
<circle cx="645.50" cy="110.60" r="2.6" fill="#EDB120"/>
<circle cx="605.98" cy="224.02" r="2.6" fill="#D95319"/>
<circle cx="583.08" cy="230.58" r="2.6" fill="#D95319"/>
<circle cx="511.13" cy="142.55" r="2.6" fill="#EDB120"/>
<circle cx="602.74" cy="113.13" r="2.6" fill="#EDB120"/>
<circle cx="557.14" cy="243.18" r="2.6" fill="#D95319"/>
<circle cx="534.03" cy="133.05" r="2.6" fill="#EDB120"/>
<circle cx="579.84" cy="117.78" r="2.6" fill="#EDB120"/>
<circle cx="622.60" cy="112.09" r="2.6" fill="#EDB120"/>
<circle cx="556.93" cy="124.64" r="2.6" fill="#EDB120"/>
<circle cx="602.94" cy="226.15" r="2.6" fill="#D95319"/>
<circle cx="580.04" cy="233.18" r="2.6" fill="#D95319"/>
<circle cx="642.46" cy="111.95" r="2.6" fill="#EDB120"/>
<circle cx="508.09" cy="146.09" r="2.6" fill="#EDB120"/>
<circle cx="554.10" cy="246.94" r="2.6" fill="#D95319"/>
<circle cx="599.70" cy="115.20" r="2.6" fill="#EDB120"/>
<circle cx="530.99" cy="136.34" r="2.6" fill="#EDB120"/>
<circle cx="553.89" cy="127.58" r="2.6" fill="#EDB120"/>
<circle cx="576.80" cy="120.30" r="2.6" fill="#EDB120"/>
<circle cx="505.05" cy="149.72" r="2.6" fill="#EDB120"/>
<circle cx="619.56" cy="113.82" r="2.6" fill="#EDB120"/>
<circle cx="577.00" cy="235.95" r="2.6" fill="#D95319"/>
<circle cx="599.90" cy="228.37" r="2.6" fill="#D95319"/>
<circle cx="551.06" cy="251.13" r="2.6" fill="#D95319"/>
<circle cx="639.42" cy="113.38" r="2.6" fill="#EDB120"/>
<circle cx="527.95" cy="139.73" r="2.6" fill="#EDB120"/>
<circle cx="596.66" cy="117.38" r="2.6" fill="#EDB120"/>
<circle cx="550.85" cy="130.63" r="2.6" fill="#EDB120"/>
<circle cx="502.01" cy="153.42" r="2.6" fill="#EDB120"/>
<circle cx="573.75" cy="122.93" r="2.6" fill="#EDB120"/>
<circle cx="548.02" cy="255.90" r="2.6" fill="#D95319"/>
<circle cx="573.96" cy="238.93" r="2.6" fill="#D95319"/>
<circle cx="616.52" cy="115.64" r="2.6" fill="#EDB120"/>
<circle cx="596.86" cy="230.71" r="2.6" fill="#D95319"/>
<circle cx="544.98" cy="262.06" r="2.6" fill="#D95319"/>
<circle cx="524.91" cy="143.21" r="2.6" fill="#EDB120"/>
<circle cx="636.38" cy="114.89" r="2.6" fill="#EDB120"/>
<circle cx="593.62" cy="119.66" r="2.6" fill="#EDB120"/>
<circle cx="547.81" cy="133.79" r="2.6" fill="#EDB120"/>
<circle cx="570.72" cy="125.68" r="2.6" fill="#EDB120"/>
<circle cx="570.92" cy="242.16" r="2.6" fill="#D95319"/>
<circle cx="521.87" cy="146.79" r="2.6" fill="#EDB120"/>
<circle cx="593.82" cy="233.18" r="2.6" fill="#D95319"/>
<circle cx="613.48" cy="117.56" r="2.6" fill="#EDB120"/>
<circle cx="544.77" cy="137.05" r="2.6" fill="#EDB120"/>
<circle cx="590.58" cy="122.06" r="2.6" fill="#EDB120"/>
<circle cx="633.34" cy="116.48" r="2.6" fill="#EDB120"/>
<circle cx="567.88" cy="245.69" r="2.6" fill="#D95319"/>
<circle cx="567.68" cy="128.53" r="2.6" fill="#EDB120"/>
<circle cx="518.83" cy="150.46" r="2.6" fill="#EDB120"/>
<circle cx="590.78" cy="235.80" r="2.6" fill="#D95319"/>
<circle cx="610.44" cy="119.59" r="2.6" fill="#EDB120"/>
<circle cx="541.73" cy="140.41" r="2.6" fill="#EDB120"/>
<circle cx="564.84" cy="249.61" r="2.6" fill="#D95319"/>
<circle cx="587.54" cy="124.57" r="2.6" fill="#EDB120"/>
<circle cx="564.63" cy="131.49" r="2.6" fill="#EDB120"/>
<circle cx="515.79" cy="154.23" r="2.6" fill="#EDB120"/>
<circle cx="630.30" cy="118.18" r="2.6" fill="#EDB120"/>
<circle cx="587.74" cy="238.61" r="2.6" fill="#D95319"/>
<circle cx="561.80" cy="254.03" r="2.6" fill="#D95319"/>
<circle cx="538.69" cy="143.88" r="2.6" fill="#EDB120"/>
<circle cx="607.40" cy="121.74" r="2.6" fill="#EDB120"/>
<circle cx="512.75" cy="158.09" r="2.6" fill="#EDB120"/>
<circle cx="561.60" cy="134.57" r="2.6" fill="#EDB120"/>
<circle cx="584.50" cy="127.20" r="2.6" fill="#EDB120"/>
<circle cx="558.76" cy="259.08" r="2.6" fill="#D95319"/>
<circle cx="627.26" cy="119.97" r="2.6" fill="#EDB120"/>
<circle cx="584.70" cy="241.65" r="2.6" fill="#D95319"/>
<circle cx="535.65" cy="147.45" r="2.6" fill="#EDB120"/>
<circle cx="555.72" cy="265.32" r="2.6" fill="#D95319"/>
<circle cx="604.36" cy="123.99" r="2.6" fill="#EDB120"/>
<circle cx="558.56" cy="137.76" r="2.6" fill="#EDB120"/>
<circle cx="581.46" cy="129.95" r="2.6" fill="#EDB120"/>
<circle cx="532.61" cy="151.13" r="2.6" fill="#EDB120"/>
<circle cx="581.66" cy="244.95" r="2.6" fill="#D95319"/>
<circle cx="624.22" cy="121.87" r="2.6" fill="#EDB120"/>
<circle cx="555.52" cy="141.06" r="2.6" fill="#EDB120"/>
<circle cx="601.32" cy="126.36" r="2.6" fill="#EDB120"/>
<circle cx="578.42" cy="132.81" r="2.6" fill="#EDB120"/>
<circle cx="529.57" cy="154.92" r="2.6" fill="#EDB120"/>
<circle cx="578.62" cy="248.59" r="2.6" fill="#D95319"/>
<circle cx="621.18" cy="123.87" r="2.6" fill="#EDB120"/>
<circle cx="552.48" cy="144.48" r="2.6" fill="#EDB120"/>
<circle cx="598.28" cy="128.85" r="2.6" fill="#EDB120"/>
<circle cx="575.38" cy="135.80" r="2.6" fill="#EDB120"/>
<circle cx="526.53" cy="158.82" r="2.6" fill="#EDB120"/>
<circle cx="575.58" cy="252.66" r="2.6" fill="#D95319"/>
<circle cx="549.44" cy="148.02" r="2.6" fill="#EDB120"/>
<circle cx="618.14" cy="125.99" r="2.6" fill="#EDB120"/>
<circle cx="572.54" cy="257.26" r="2.6" fill="#D95319"/>
<circle cx="523.49" cy="162.82" r="2.6" fill="#EDB120"/>
<circle cx="572.34" cy="138.90" r="2.6" fill="#EDB120"/>
<circle cx="595.24" cy="131.46" r="2.6" fill="#EDB120"/>
<circle cx="569.50" cy="262.57" r="2.6" fill="#D95319"/>
<circle cx="546.40" cy="151.68" r="2.6" fill="#EDB120"/>
<circle cx="566.46" cy="268.84" r="2.6" fill="#D95319"/>
<circle cx="615.10" cy="128.23" r="2.6" fill="#EDB120"/>
<circle cx="569.30" cy="142.13" r="2.6" fill="#EDB120"/>
<circle cx="592.20" cy="134.20" r="2.6" fill="#EDB120"/>
<circle cx="543.36" cy="155.45" r="2.6" fill="#EDB120"/>
<circle cx="566.26" cy="145.49" r="2.6" fill="#EDB120"/>
<circle cx="612.06" cy="130.59" r="2.6" fill="#EDB120"/>
<circle cx="589.16" cy="137.06" r="2.6" fill="#EDB120"/>
<circle cx="540.32" cy="159.34" r="2.6" fill="#EDB120"/>
<circle cx="563.22" cy="148.98" r="2.6" fill="#EDB120"/>
<circle cx="537.28" cy="163.35" r="2.6" fill="#EDB120"/>
<circle cx="609.02" cy="133.07" r="2.6" fill="#EDB120"/>
<circle cx="586.12" cy="140.05" r="2.6" fill="#EDB120"/>
<circle cx="560.18" cy="152.59" r="2.6" fill="#EDB120"/>
<circle cx="534.24" cy="167.48" r="2.6" fill="#EDB120"/>
<circle cx="583.08" cy="143.17" r="2.6" fill="#EDB120"/>
<circle cx="605.98" cy="135.69" r="2.6" fill="#EDB120"/>
<circle cx="557.14" cy="156.33" r="2.6" fill="#EDB120"/>
<circle cx="580.04" cy="146.42" r="2.6" fill="#EDB120"/>
<circle cx="602.94" cy="138.43" r="2.6" fill="#EDB120"/>
<circle cx="554.10" cy="160.20" r="2.6" fill="#EDB120"/>
<circle cx="577.00" cy="149.81" r="2.6" fill="#EDB120"/>
<circle cx="599.90" cy="141.31" r="2.6" fill="#EDB120"/>
<circle cx="551.06" cy="164.21" r="2.6" fill="#EDB120"/>
<circle cx="573.96" cy="153.34" r="2.6" fill="#EDB120"/>
<circle cx="548.02" cy="168.34" r="2.6" fill="#EDB120"/>
<circle cx="596.86" cy="144.33" r="2.6" fill="#EDB120"/>
<circle cx="570.92" cy="157.00" r="2.6" fill="#EDB120"/>
<circle cx="544.98" cy="172.62" r="2.6" fill="#EDB120"/>
<circle cx="593.82" cy="147.49" r="2.6" fill="#EDB120"/>
<circle cx="567.88" cy="160.81" r="2.6" fill="#EDB120"/>
<circle cx="590.78" cy="150.79" r="2.6" fill="#EDB120"/>
<circle cx="564.84" cy="164.76" r="2.6" fill="#EDB120"/>
<circle cx="587.74" cy="154.25" r="2.6" fill="#EDB120"/>
<circle cx="561.80" cy="168.85" r="2.6" fill="#EDB120"/>
<circle cx="584.70" cy="157.85" r="2.6" fill="#EDB120"/>
<circle cx="558.76" cy="173.09" r="2.6" fill="#EDB120"/>
<circle cx="581.66" cy="161.60" r="2.6" fill="#EDB120"/>
<circle cx="555.72" cy="177.48" r="2.6" fill="#EDB120"/>
<circle cx="578.62" cy="165.51" r="2.6" fill="#EDB120"/>
<circle cx="575.58" cy="169.58" r="2.6" fill="#EDB120"/>
<circle cx="572.54" cy="173.80" r="2.6" fill="#EDB120"/>
<circle cx="569.50" cy="178.19" r="2.6" fill="#EDB120"/>
<circle cx="566.46" cy="182.75" r="2.6" fill="#EDB120"/>
<line x1="425.40" y1="359.50" x2="425.40" y2="343.70" stroke="#474747" stroke-width="0.7"/>
<line x1="425.40" y1="338.60" x2="425.40" y2="91.30" stroke="#474747" stroke-width="0.7"/>
<line x1="425.40" y1="359.50" x2="431.73" y2="361.70" stroke="#474747" stroke-width="0.7"/>
<line x1="435.41" y1="362.97" x2="554.30" y2="404.20" stroke="#474747" stroke-width="0.7"/>
<line x1="554.30" y1="404.20" x2="675.90" y2="357.40" stroke="#474747" stroke-width="0.7"/>
<line x1="425.40" y1="325.98" x2="419.73" y2="324.01" stroke="#474747" stroke-width="0.7"/>
<line x1="425.40" y1="292.45" x2="419.73" y2="290.48" stroke="#474747" stroke-width="0.7"/>
<line x1="425.40" y1="258.93" x2="419.73" y2="256.96" stroke="#474747" stroke-width="0.7"/>
<line x1="425.40" y1="225.40" x2="419.73" y2="223.43" stroke="#474747" stroke-width="0.7"/>
<line x1="425.40" y1="191.88" x2="419.73" y2="189.91" stroke="#474747" stroke-width="0.7"/>
<line x1="425.40" y1="158.35" x2="419.73" y2="156.38" stroke="#474747" stroke-width="0.7"/>
<line x1="425.40" y1="124.83" x2="419.73" y2="122.86" stroke="#474747" stroke-width="0.7"/>
<line x1="425.40" y1="91.30" x2="419.73" y2="89.33" stroke="#474747" stroke-width="0.7"/>
<line x1="425.40" y1="359.50" x2="419.73" y2="357.53" stroke="#474747" stroke-width="0.7"/>
<line x1="446.88" y1="366.95" x2="440.54" y2="369.39" stroke="#474747" stroke-width="0.7"/>
<line x1="500.59" y1="385.57" x2="494.25" y2="388.02" stroke="#474747" stroke-width="0.7"/>
<line x1="554.30" y1="404.20" x2="547.95" y2="406.64" stroke="#474747" stroke-width="0.7"/>
<line x1="554.30" y1="404.20" x2="559.97" y2="406.17" stroke="#474747" stroke-width="0.7"/>
<line x1="615.10" y1="380.80" x2="620.77" y2="382.77" stroke="#474747" stroke-width="0.7"/>
<line x1="675.90" y1="357.40" x2="681.57" y2="359.37" stroke="#474747" stroke-width="0.7"/>
<text x="416.10" y="326.28" font-size="10" text-anchor="end" >700</text>
<text x="416.10" y="292.75" font-size="10" text-anchor="end" >750</text>
<text x="416.10" y="259.23" font-size="10" text-anchor="end" >800</text>
<text x="416.10" y="225.70" font-size="10" text-anchor="end" >850</text>
<text x="416.10" y="192.18" font-size="10" text-anchor="end" >900</text>
<text x="416.10" y="158.65" font-size="10" text-anchor="end" >950</text>
<text x="416.10" y="125.13" font-size="10" text-anchor="end" >1000</text>
<text x="416.10" y="91.60" font-size="10" text-anchor="end" >1050</text>
<text x="413.00" y="369.00" font-size="10" text-anchor="middle" >0</text>
<text x="432.50" y="379.30" font-size="10" text-anchor="middle" >15</text>
<text x="486.10" y="398.20" font-size="10" text-anchor="middle" >20</text>
<text x="539.60" y="416.20" font-size="10" text-anchor="middle" >25</text>
<text x="566.00" y="415.90" font-size="10" text-anchor="middle" >0</text>
<text x="635.60" y="392.60" font-size="10" text-anchor="middle" >2000</text>
<text x="696.20" y="369.30" font-size="10" text-anchor="middle" >4000</text>
<text x="432.50" y="416.20" font-size="11" text-anchor="start" textLength="84.5" lengthAdjust="spacingAndGlyphs">Temperature (°C)</text>
<text x="578.50" y="414.00" font-size="11" text-anchor="start" textLength="122" lengthAdjust="spacingAndGlyphs">CO<tspan font-size="7.5" dy="2">2</tspan><tspan dy="-2"> concentration (ppm)</tspan></text>
<text transform="translate(377.5,234.0) rotate(-90)" font-size="11.5" text-anchor="middle" fill="#262626" stroke="#262626" stroke-width="0.2" textLength="128" lengthAdjust="spacingAndGlyphs">Global warming potential</text>
<text transform="translate(391.3,234.8) rotate(-90)" font-size="11.5" text-anchor="middle" fill="#262626" stroke="#262626" stroke-width="0.2" textLength="83.5" lengthAdjust="spacingAndGlyphs">(kg CO<tspan font-size="7.5" dy="2">2</tspan><tspan dy="-2">e week</tspan><tspan font-size="7.5" dy="-4">−1</tspan><tspan dy="4">)</tspan></text>
<text x="543.70" y="60.20" font-size="15.5" text-anchor="middle" >(b)</text>
<line x1="420.40" y1="342.70" x2="427.80" y2="336.70" stroke="#474747" stroke-width="0.7"/>
<line x1="423.40" y1="345.30" x2="431.00" y2="339.40" stroke="#474747" stroke-width="0.7"/>
<line x1="429.30" y1="364.60" x2="434.80" y2="357.20" stroke="#474747" stroke-width="0.7"/>
<line x1="432.30" y1="366.60" x2="438.20" y2="359.20" stroke="#474747" stroke-width="0.7"/>
</svg></body></html>
